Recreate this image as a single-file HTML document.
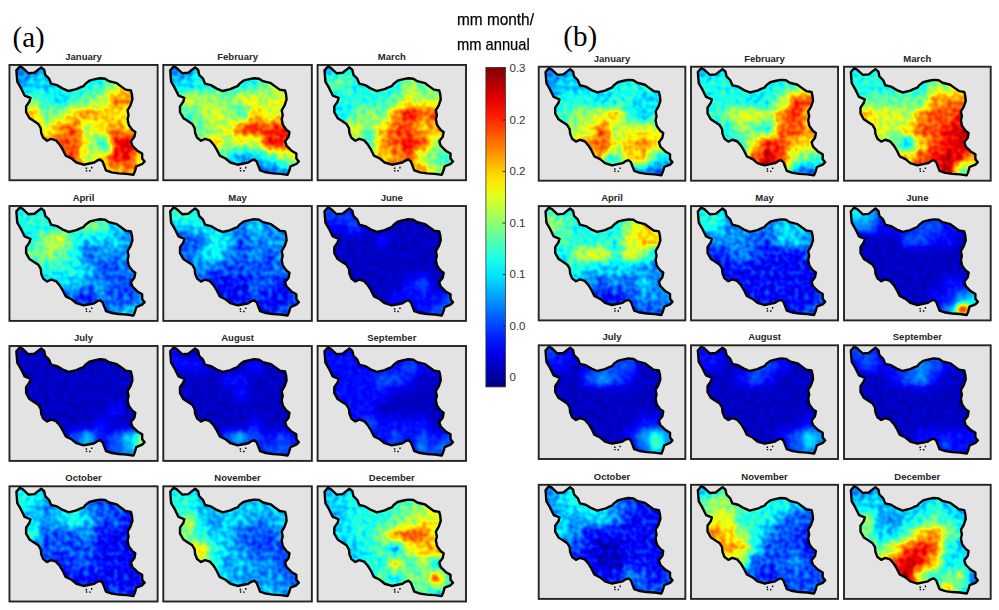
<!DOCTYPE html>
<html><head><meta charset="utf-8"><style>
html,body{margin:0;padding:0;background:#fff;width:999px;height:610px;overflow:hidden;}
body{position:relative;font-family:"Liberation Sans",sans-serif;}
svg.pg{position:absolute;left:0;top:0;display:block;}
.lbl{position:absolute;text-align:center;font-weight:bold;font-size:9.5px;line-height:11px;color:#262626;white-space:nowrap;}
.tk{position:absolute;font-size:11.5px;line-height:13px;color:#333;}
.pl{position:absolute;font-family:"Liberation Serif",serif;font-size:29px;line-height:33px;color:#000;}
.un{position:absolute;font-size:17px;line-height:20px;color:#000;-webkit-text-stroke:0.25px #000;white-space:nowrap;transform-origin:0 0;}
</style></head><body>
<svg class="pg" width="999" height="610" viewBox="0 0 999 610"><defs>
<path id="ir" fill="none" stroke="#000" stroke-width="2.4" stroke-linejoin="round" d="M10.35,1.50 L13.25,2.90 L19.15,8.30 L25.05,7.80 L31.95,2.40 L34.95,4.90 L35.95,9.80 L39.85,13.70 L41.85,18.70 L47.75,20.10 L53.65,23.60 L59.55,26.00 L67.35,24.10 L70.55,22.60 L74.45,21.10 L76.45,18.70 L80.35,15.70 L86.25,14.20 L91.15,13.30 L96.15,13.70 L100.05,16.20 L107.95,18.20 L111.85,21.10 L116.75,24.60 L122.15,25.50 L123.15,29.50 L123.65,34.40 L121.65,40.30 L118.75,45.20 L119.75,50.10 L118.75,54.10 L119.75,59.00 L120.65,60.90 L123.65,64.80 L126.55,66.80 L125.65,71.70 L122.15,76.10 L123.65,80.60 L128.55,85.50 L133.45,88.40 L133.45,93.30 L135.95,96.30 L133.45,98.80 L127.55,101.20 L126.15,106.10 L124.65,109.60 L117.75,108.60 L109.85,108.10 L102.95,107.10 L97.05,105.10 L95.15,100.20 L93.65,96.30 L91.15,94.30 L88.25,95.30 L85.25,97.30 L80.35,98.30 L74.55,99.50 L67.35,97.30 L62.45,93.30 L56.55,90.40 L53.65,84.50 L50.65,79.60 L46.75,75.20 L41.85,73.70 L37.85,75.60 L33.95,72.70 L31.95,67.80 L31.45,62.90 L29.05,58.90 L23.15,55.00 L20.15,53.10 L16.75,47.20 L16.75,41.30 L20.15,36.40 L21.15,32.90 L15.25,30.50 L11.35,22.60 L7.85,16.70 L6.95,5.40Z"/>
<path id="isl" fill="#000" d="M76.6,102.4h1.5v1.5h-1.5zM76.8,104.8h1.4v1.4h-1.4zM80.1,104.9h1.5v1.4h-1.5zM82,101.6h1.4v1.6h-1.4z"/>
<clipPath id="ck"><path d="M10.35,1.50 L13.25,2.90 L19.15,8.30 L25.05,7.80 L31.95,2.40 L34.95,4.90 L35.95,9.80 L39.85,13.70 L41.85,18.70 L47.75,20.10 L53.65,23.60 L59.55,26.00 L67.35,24.10 L70.55,22.60 L74.45,21.10 L76.45,18.70 L80.35,15.70 L86.25,14.20 L91.15,13.30 L96.15,13.70 L100.05,16.20 L107.95,18.20 L111.85,21.10 L116.75,24.60 L122.15,25.50 L123.15,29.50 L123.65,34.40 L121.65,40.30 L118.75,45.20 L119.75,50.10 L118.75,54.10 L119.75,59.00 L120.65,60.90 L123.65,64.80 L126.55,66.80 L125.65,71.70 L122.15,76.10 L123.65,80.60 L128.55,85.50 L133.45,88.40 L133.45,93.30 L135.95,96.30 L133.45,98.80 L127.55,101.20 L126.15,106.10 L124.65,109.60 L117.75,108.60 L109.85,108.10 L102.95,107.10 L97.05,105.10 L95.15,100.20 L93.65,96.30 L91.15,94.30 L88.25,95.30 L85.25,97.30 L80.35,98.30 L74.55,99.50 L67.35,97.30 L62.45,93.30 L56.55,90.40 L53.65,84.50 L50.65,79.60 L46.75,75.20 L41.85,73.70 L37.85,75.60 L33.95,72.70 L31.95,67.80 L31.45,62.90 L29.05,58.90 L23.15,55.00 L20.15,53.10 L16.75,47.20 L16.75,41.30 L20.15,36.40 L21.15,32.90 L15.25,30.50 L11.35,22.60 L7.85,16.70 L6.95,5.40Z"/></clipPath>
<filter id="bl" x="-10%" y="-10%" width="120%" height="120%" color-interpolation-filters="sRGB"><feGaussianBlur stdDeviation="4.0" result="s"/><feTurbulence type="fractalNoise" baseFrequency="0.2" numOctaves="1" seed="3"/><feColorMatrix type="matrix" values="1 0 0 0 0  1 0 0 0 0  1 0 0 0 0  0 0 0 0 1" result="n"/><feComposite in="s" in2="n" operator="arithmetic" k1="0" k2="1" k3="0.26" k4="-0.130"/><feComponentTransfer><feFuncR type="table" tableValues="0 0 0 0 .5 1 1 1 .5"/><feFuncG type="table" tableValues="0 0 .5 1 1 1 .5 0 0"/><feFuncB type="table" tableValues=".5 1 1 1 .5 0 0 0 0"/></feComponentTransfer></filter><filter id="bq" x="-10%" y="-10%" width="120%" height="120%" color-interpolation-filters="sRGB"><feGaussianBlur stdDeviation="4.0" result="s"/><feTurbulence type="fractalNoise" baseFrequency="0.2" numOctaves="1" seed="3"/><feColorMatrix type="matrix" values="1 0 0 0 0  1 0 0 0 0  1 0 0 0 0  0 0 0 0 1" result="n"/><feComposite in="s" in2="n" operator="arithmetic" k1="0" k2="1" k3="0.1" k4="-0.050"/><feComponentTransfer><feFuncR type="table" tableValues="0 0 0 0 .5 1 1 1 .5"/><feFuncG type="table" tableValues="0 0 .5 1 1 1 .5 0 0"/><feFuncB type="table" tableValues=".5 1 1 1 .5 0 0 0 0"/></feComponentTransfer></filter>
<linearGradient id="cg" x1="0" y1="0" x2="0" y2="1"><stop offset="0.00" stop-color="#800000"/><stop offset="0.05" stop-color="#b30000"/><stop offset="0.10" stop-color="#e50000"/><stop offset="0.15" stop-color="#ff1a00"/><stop offset="0.20" stop-color="#ff4c00"/><stop offset="0.25" stop-color="#ff8000"/><stop offset="0.30" stop-color="#ffb300"/><stop offset="0.35" stop-color="#ffe500"/><stop offset="0.40" stop-color="#e5ff1a"/><stop offset="0.45" stop-color="#b3ff4c"/><stop offset="0.50" stop-color="#80ff80"/><stop offset="0.55" stop-color="#4cffb3"/><stop offset="0.60" stop-color="#1affe5"/><stop offset="0.65" stop-color="#00e5ff"/><stop offset="0.70" stop-color="#00b3ff"/><stop offset="0.75" stop-color="#0080ff"/><stop offset="0.80" stop-color="#004cff"/><stop offset="0.85" stop-color="#001aff"/><stop offset="0.90" stop-color="#0000e5"/><stop offset="0.95" stop-color="#0000b3"/><stop offset="1.00" stop-color="#000080"/></linearGradient>
</defs>
<rect x="9.45" y="64.95" width="148.20" height="115.30" fill="#e3e3e3" stroke="#242424" stroke-width="1.9"/><g transform="translate(9.45,64.95) scale(0.9946,1.0026)"><g clip-path="url(#ck)"><g filter="url(#bl)"><rect x="4.0" y="-2.0" width="14.1" height="15.0" fill="#444444"/><rect x="17.6" y="-2.0" width="14.1" height="15.0" fill="#444444"/><rect x="31.2" y="-2.0" width="14.1" height="15.0" fill="#555555"/><rect x="44.8" y="-2.0" width="14.1" height="15.0" fill="#555555"/><rect x="58.4" y="-2.0" width="14.1" height="15.0" fill="#666666"/><rect x="72.0" y="-2.0" width="14.1" height="15.0" fill="#666666"/><rect x="85.6" y="-2.0" width="14.1" height="15.0" fill="#666666"/><rect x="99.2" y="-2.0" width="14.1" height="15.0" fill="#888888"/><rect x="112.8" y="-2.0" width="14.1" height="15.0" fill="#aaaaaa"/><rect x="126.4" y="-2.0" width="14.1" height="15.0" fill="#aaaaaa"/><rect x="4.0" y="12.5" width="14.1" height="15.0" fill="#444444"/><rect x="17.6" y="12.5" width="14.1" height="15.0" fill="#555555"/><rect x="31.2" y="12.5" width="14.1" height="15.0" fill="#555555"/><rect x="44.8" y="12.5" width="14.1" height="15.0" fill="#666666"/><rect x="58.4" y="12.5" width="14.1" height="15.0" fill="#666666"/><rect x="72.0" y="12.5" width="14.1" height="15.0" fill="#666666"/><rect x="85.6" y="12.5" width="14.1" height="15.0" fill="#666666"/><rect x="99.2" y="12.5" width="14.1" height="15.0" fill="#888888"/><rect x="112.8" y="12.5" width="14.1" height="15.0" fill="#aaaaaa"/><rect x="126.4" y="12.5" width="14.1" height="15.0" fill="#aaaaaa"/><rect x="4.0" y="27.0" width="14.1" height="15.0" fill="#888888"/><rect x="17.6" y="27.0" width="14.1" height="15.0" fill="#777777"/><rect x="31.2" y="27.0" width="14.1" height="15.0" fill="#666666"/><rect x="44.8" y="27.0" width="14.1" height="15.0" fill="#555555"/><rect x="58.4" y="27.0" width="14.1" height="15.0" fill="#666666"/><rect x="72.0" y="27.0" width="14.1" height="15.0" fill="#777777"/><rect x="85.6" y="27.0" width="14.1" height="15.0" fill="#888888"/><rect x="99.2" y="27.0" width="14.1" height="15.0" fill="#bbbbbb"/><rect x="112.8" y="27.0" width="14.1" height="15.0" fill="#bbbbbb"/><rect x="126.4" y="27.0" width="14.1" height="15.0" fill="#bbbbbb"/><rect x="4.0" y="41.5" width="14.1" height="15.0" fill="#999999"/><rect x="17.6" y="41.5" width="14.1" height="15.0" fill="#aaaaaa"/><rect x="31.2" y="41.5" width="14.1" height="15.0" fill="#777777"/><rect x="44.8" y="41.5" width="14.1" height="15.0" fill="#888888"/><rect x="58.4" y="41.5" width="14.1" height="15.0" fill="#aaaaaa"/><rect x="72.0" y="41.5" width="14.1" height="15.0" fill="#bbbbbb"/><rect x="85.6" y="41.5" width="14.1" height="15.0" fill="#aaaaaa"/><rect x="99.2" y="41.5" width="14.1" height="15.0" fill="#aaaaaa"/><rect x="112.8" y="41.5" width="14.1" height="15.0" fill="#999999"/><rect x="126.4" y="41.5" width="14.1" height="15.0" fill="#999999"/><rect x="4.0" y="56.0" width="14.1" height="15.0" fill="#aaaaaa"/><rect x="17.6" y="56.0" width="14.1" height="15.0" fill="#aaaaaa"/><rect x="31.2" y="56.0" width="14.1" height="15.0" fill="#999999"/><rect x="44.8" y="56.0" width="14.1" height="15.0" fill="#bbbbbb"/><rect x="58.4" y="56.0" width="14.1" height="15.0" fill="#cccccc"/><rect x="72.0" y="56.0" width="14.1" height="15.0" fill="#888888"/><rect x="85.6" y="56.0" width="14.1" height="15.0" fill="#aaaaaa"/><rect x="99.2" y="56.0" width="14.1" height="15.0" fill="#bbbbbb"/><rect x="112.8" y="56.0" width="14.1" height="15.0" fill="#aaaaaa"/><rect x="126.4" y="56.0" width="14.1" height="15.0" fill="#aaaaaa"/><rect x="4.0" y="70.5" width="14.1" height="15.0" fill="#bbbbbb"/><rect x="17.6" y="70.5" width="14.1" height="15.0" fill="#bbbbbb"/><rect x="31.2" y="70.5" width="14.1" height="15.0" fill="#bbbbbb"/><rect x="44.8" y="70.5" width="14.1" height="15.0" fill="#cccccc"/><rect x="58.4" y="70.5" width="14.1" height="15.0" fill="#cccccc"/><rect x="72.0" y="70.5" width="14.1" height="15.0" fill="#999999"/><rect x="85.6" y="70.5" width="14.1" height="15.0" fill="#666666"/><rect x="99.2" y="70.5" width="14.1" height="15.0" fill="#dddddd"/><rect x="112.8" y="70.5" width="14.1" height="15.0" fill="#eeeeee"/><rect x="126.4" y="70.5" width="14.1" height="15.0" fill="#cccccc"/><rect x="4.0" y="85.0" width="14.1" height="15.0" fill="#cccccc"/><rect x="17.6" y="85.0" width="14.1" height="15.0" fill="#cccccc"/><rect x="31.2" y="85.0" width="14.1" height="15.0" fill="#cccccc"/><rect x="44.8" y="85.0" width="14.1" height="15.0" fill="#cccccc"/><rect x="58.4" y="85.0" width="14.1" height="15.0" fill="#cccccc"/><rect x="72.0" y="85.0" width="14.1" height="15.0" fill="#888888"/><rect x="85.6" y="85.0" width="14.1" height="15.0" fill="#aaaaaa"/><rect x="99.2" y="85.0" width="14.1" height="15.0" fill="#dddddd"/><rect x="112.8" y="85.0" width="14.1" height="15.0" fill="#dddddd"/><rect x="126.4" y="85.0" width="14.1" height="15.0" fill="#999999"/><rect x="4.0" y="99.5" width="14.1" height="15.0" fill="#cccccc"/><rect x="17.6" y="99.5" width="14.1" height="15.0" fill="#cccccc"/><rect x="31.2" y="99.5" width="14.1" height="15.0" fill="#cccccc"/><rect x="44.8" y="99.5" width="14.1" height="15.0" fill="#cccccc"/><rect x="58.4" y="99.5" width="14.1" height="15.0" fill="#cccccc"/><rect x="72.0" y="99.5" width="14.1" height="15.0" fill="#aaaaaa"/><rect x="85.6" y="99.5" width="14.1" height="15.0" fill="#aaaaaa"/><rect x="99.2" y="99.5" width="14.1" height="15.0" fill="#aaaaaa"/><rect x="112.8" y="99.5" width="14.1" height="15.0" fill="#bbbbbb"/><rect x="126.4" y="99.5" width="14.1" height="15.0" fill="#aaaaaa"/><ellipse cx="97" cy="82" rx="7" ry="5" fill="#555555"/></g></g><use href="#ir"/><use href="#isl"/></g><rect x="538.70" y="66.70" width="146.65" height="114.00" fill="#e3e3e3" stroke="#242424" stroke-width="1.9"/><g transform="translate(538.70,66.70) scale(0.9842,0.9913)"><g clip-path="url(#ck)"><g filter="url(#bl)"><rect x="4.0" y="-2.0" width="14.1" height="15.0" fill="#444444"/><rect x="17.6" y="-2.0" width="14.1" height="15.0" fill="#444444"/><rect x="31.2" y="-2.0" width="14.1" height="15.0" fill="#555555"/><rect x="44.8" y="-2.0" width="14.1" height="15.0" fill="#555555"/><rect x="58.4" y="-2.0" width="14.1" height="15.0" fill="#555555"/><rect x="72.0" y="-2.0" width="14.1" height="15.0" fill="#666666"/><rect x="85.6" y="-2.0" width="14.1" height="15.0" fill="#666666"/><rect x="99.2" y="-2.0" width="14.1" height="15.0" fill="#666666"/><rect x="112.8" y="-2.0" width="14.1" height="15.0" fill="#666666"/><rect x="126.4" y="-2.0" width="14.1" height="15.0" fill="#666666"/><rect x="4.0" y="12.5" width="14.1" height="15.0" fill="#444444"/><rect x="17.6" y="12.5" width="14.1" height="15.0" fill="#555555"/><rect x="31.2" y="12.5" width="14.1" height="15.0" fill="#555555"/><rect x="44.8" y="12.5" width="14.1" height="15.0" fill="#555555"/><rect x="58.4" y="12.5" width="14.1" height="15.0" fill="#555555"/><rect x="72.0" y="12.5" width="14.1" height="15.0" fill="#666666"/><rect x="85.6" y="12.5" width="14.1" height="15.0" fill="#666666"/><rect x="99.2" y="12.5" width="14.1" height="15.0" fill="#666666"/><rect x="112.8" y="12.5" width="14.1" height="15.0" fill="#666666"/><rect x="126.4" y="12.5" width="14.1" height="15.0" fill="#666666"/><rect x="4.0" y="27.0" width="14.1" height="15.0" fill="#555555"/><rect x="17.6" y="27.0" width="14.1" height="15.0" fill="#666666"/><rect x="31.2" y="27.0" width="14.1" height="15.0" fill="#666666"/><rect x="44.8" y="27.0" width="14.1" height="15.0" fill="#666666"/><rect x="58.4" y="27.0" width="14.1" height="15.0" fill="#555555"/><rect x="72.0" y="27.0" width="14.1" height="15.0" fill="#666666"/><rect x="85.6" y="27.0" width="14.1" height="15.0" fill="#666666"/><rect x="99.2" y="27.0" width="14.1" height="15.0" fill="#555555"/><rect x="112.8" y="27.0" width="14.1" height="15.0" fill="#555555"/><rect x="126.4" y="27.0" width="14.1" height="15.0" fill="#555555"/><rect x="4.0" y="41.5" width="14.1" height="15.0" fill="#666666"/><rect x="17.6" y="41.5" width="14.1" height="15.0" fill="#666666"/><rect x="31.2" y="41.5" width="14.1" height="15.0" fill="#888888"/><rect x="44.8" y="41.5" width="14.1" height="15.0" fill="#888888"/><rect x="58.4" y="41.5" width="14.1" height="15.0" fill="#999999"/><rect x="72.0" y="41.5" width="14.1" height="15.0" fill="#aaaaaa"/><rect x="85.6" y="41.5" width="14.1" height="15.0" fill="#666666"/><rect x="99.2" y="41.5" width="14.1" height="15.0" fill="#555555"/><rect x="112.8" y="41.5" width="14.1" height="15.0" fill="#666666"/><rect x="126.4" y="41.5" width="14.1" height="15.0" fill="#666666"/><rect x="4.0" y="56.0" width="14.1" height="15.0" fill="#888888"/><rect x="17.6" y="56.0" width="14.1" height="15.0" fill="#888888"/><rect x="31.2" y="56.0" width="14.1" height="15.0" fill="#888888"/><rect x="44.8" y="56.0" width="14.1" height="15.0" fill="#999999"/><rect x="58.4" y="56.0" width="14.1" height="15.0" fill="#cccccc"/><rect x="72.0" y="56.0" width="14.1" height="15.0" fill="#888888"/><rect x="85.6" y="56.0" width="14.1" height="15.0" fill="#999999"/><rect x="99.2" y="56.0" width="14.1" height="15.0" fill="#999999"/><rect x="112.8" y="56.0" width="14.1" height="15.0" fill="#999999"/><rect x="126.4" y="56.0" width="14.1" height="15.0" fill="#999999"/><rect x="4.0" y="70.5" width="14.1" height="15.0" fill="#aaaaaa"/><rect x="17.6" y="70.5" width="14.1" height="15.0" fill="#aaaaaa"/><rect x="31.2" y="70.5" width="14.1" height="15.0" fill="#aaaaaa"/><rect x="44.8" y="70.5" width="14.1" height="15.0" fill="#bbbbbb"/><rect x="58.4" y="70.5" width="14.1" height="15.0" fill="#cccccc"/><rect x="72.0" y="70.5" width="14.1" height="15.0" fill="#999999"/><rect x="85.6" y="70.5" width="14.1" height="15.0" fill="#aaaaaa"/><rect x="99.2" y="70.5" width="14.1" height="15.0" fill="#bbbbbb"/><rect x="112.8" y="70.5" width="14.1" height="15.0" fill="#aaaaaa"/><rect x="126.4" y="70.5" width="14.1" height="15.0" fill="#aaaaaa"/><rect x="4.0" y="85.0" width="14.1" height="15.0" fill="#aaaaaa"/><rect x="17.6" y="85.0" width="14.1" height="15.0" fill="#aaaaaa"/><rect x="31.2" y="85.0" width="14.1" height="15.0" fill="#aaaaaa"/><rect x="44.8" y="85.0" width="14.1" height="15.0" fill="#aaaaaa"/><rect x="58.4" y="85.0" width="14.1" height="15.0" fill="#bbbbbb"/><rect x="72.0" y="85.0" width="14.1" height="15.0" fill="#777777"/><rect x="85.6" y="85.0" width="14.1" height="15.0" fill="#aaaaaa"/><rect x="99.2" y="85.0" width="14.1" height="15.0" fill="#aaaaaa"/><rect x="112.8" y="85.0" width="14.1" height="15.0" fill="#666666"/><rect x="126.4" y="85.0" width="14.1" height="15.0" fill="#555555"/><rect x="4.0" y="99.5" width="14.1" height="15.0" fill="#555555"/><rect x="17.6" y="99.5" width="14.1" height="15.0" fill="#555555"/><rect x="31.2" y="99.5" width="14.1" height="15.0" fill="#555555"/><rect x="44.8" y="99.5" width="14.1" height="15.0" fill="#555555"/><rect x="58.4" y="99.5" width="14.1" height="15.0" fill="#555555"/><rect x="72.0" y="99.5" width="14.1" height="15.0" fill="#555555"/><rect x="85.6" y="99.5" width="14.1" height="15.0" fill="#555555"/><rect x="99.2" y="99.5" width="14.1" height="15.0" fill="#444444"/><rect x="112.8" y="99.5" width="14.1" height="15.0" fill="#333333"/><rect x="126.4" y="99.5" width="14.1" height="15.0" fill="#333333"/><ellipse cx="72" cy="93" rx="8" ry="4" fill="#555555"/></g></g><use href="#ir"/><use href="#isl"/></g><rect x="163.30" y="64.95" width="148.55" height="115.30" fill="#e3e3e3" stroke="#242424" stroke-width="1.9"/><g transform="translate(163.30,64.95) scale(0.9970,1.0026)"><g clip-path="url(#ck)"><g filter="url(#bl)"><rect x="4.0" y="-2.0" width="14.1" height="15.0" fill="#444444"/><rect x="17.6" y="-2.0" width="14.1" height="15.0" fill="#444444"/><rect x="31.2" y="-2.0" width="14.1" height="15.0" fill="#666666"/><rect x="44.8" y="-2.0" width="14.1" height="15.0" fill="#666666"/><rect x="58.4" y="-2.0" width="14.1" height="15.0" fill="#666666"/><rect x="72.0" y="-2.0" width="14.1" height="15.0" fill="#666666"/><rect x="85.6" y="-2.0" width="14.1" height="15.0" fill="#666666"/><rect x="99.2" y="-2.0" width="14.1" height="15.0" fill="#888888"/><rect x="112.8" y="-2.0" width="14.1" height="15.0" fill="#888888"/><rect x="126.4" y="-2.0" width="14.1" height="15.0" fill="#888888"/><rect x="4.0" y="12.5" width="14.1" height="15.0" fill="#555555"/><rect x="17.6" y="12.5" width="14.1" height="15.0" fill="#555555"/><rect x="31.2" y="12.5" width="14.1" height="15.0" fill="#666666"/><rect x="44.8" y="12.5" width="14.1" height="15.0" fill="#666666"/><rect x="58.4" y="12.5" width="14.1" height="15.0" fill="#666666"/><rect x="72.0" y="12.5" width="14.1" height="15.0" fill="#666666"/><rect x="85.6" y="12.5" width="14.1" height="15.0" fill="#666666"/><rect x="99.2" y="12.5" width="14.1" height="15.0" fill="#888888"/><rect x="112.8" y="12.5" width="14.1" height="15.0" fill="#888888"/><rect x="126.4" y="12.5" width="14.1" height="15.0" fill="#888888"/><rect x="4.0" y="27.0" width="14.1" height="15.0" fill="#888888"/><rect x="17.6" y="27.0" width="14.1" height="15.0" fill="#999999"/><rect x="31.2" y="27.0" width="14.1" height="15.0" fill="#888888"/><rect x="44.8" y="27.0" width="14.1" height="15.0" fill="#888888"/><rect x="58.4" y="27.0" width="14.1" height="15.0" fill="#777777"/><rect x="72.0" y="27.0" width="14.1" height="15.0" fill="#999999"/><rect x="85.6" y="27.0" width="14.1" height="15.0" fill="#999999"/><rect x="99.2" y="27.0" width="14.1" height="15.0" fill="#888888"/><rect x="112.8" y="27.0" width="14.1" height="15.0" fill="#999999"/><rect x="126.4" y="27.0" width="14.1" height="15.0" fill="#999999"/><rect x="4.0" y="41.5" width="14.1" height="15.0" fill="#777777"/><rect x="17.6" y="41.5" width="14.1" height="15.0" fill="#666666"/><rect x="31.2" y="41.5" width="14.1" height="15.0" fill="#888888"/><rect x="44.8" y="41.5" width="14.1" height="15.0" fill="#999999"/><rect x="58.4" y="41.5" width="14.1" height="15.0" fill="#888888"/><rect x="72.0" y="41.5" width="14.1" height="15.0" fill="#666666"/><rect x="85.6" y="41.5" width="14.1" height="15.0" fill="#aaaaaa"/><rect x="99.2" y="41.5" width="14.1" height="15.0" fill="#999999"/><rect x="112.8" y="41.5" width="14.1" height="15.0" fill="#999999"/><rect x="126.4" y="41.5" width="14.1" height="15.0" fill="#999999"/><rect x="4.0" y="56.0" width="14.1" height="15.0" fill="#777777"/><rect x="17.6" y="56.0" width="14.1" height="15.0" fill="#777777"/><rect x="31.2" y="56.0" width="14.1" height="15.0" fill="#777777"/><rect x="44.8" y="56.0" width="14.1" height="15.0" fill="#888888"/><rect x="58.4" y="56.0" width="14.1" height="15.0" fill="#999999"/><rect x="72.0" y="56.0" width="14.1" height="15.0" fill="#cccccc"/><rect x="85.6" y="56.0" width="14.1" height="15.0" fill="#dddddd"/><rect x="99.2" y="56.0" width="14.1" height="15.0" fill="#cccccc"/><rect x="112.8" y="56.0" width="14.1" height="15.0" fill="#dddddd"/><rect x="126.4" y="56.0" width="14.1" height="15.0" fill="#dddddd"/><rect x="4.0" y="70.5" width="14.1" height="15.0" fill="#888888"/><rect x="17.6" y="70.5" width="14.1" height="15.0" fill="#888888"/><rect x="31.2" y="70.5" width="14.1" height="15.0" fill="#888888"/><rect x="44.8" y="70.5" width="14.1" height="15.0" fill="#aaaaaa"/><rect x="58.4" y="70.5" width="14.1" height="15.0" fill="#888888"/><rect x="72.0" y="70.5" width="14.1" height="15.0" fill="#999999"/><rect x="85.6" y="70.5" width="14.1" height="15.0" fill="#888888"/><rect x="99.2" y="70.5" width="14.1" height="15.0" fill="#dddddd"/><rect x="112.8" y="70.5" width="14.1" height="15.0" fill="#dddddd"/><rect x="126.4" y="70.5" width="14.1" height="15.0" fill="#bbbbbb"/><rect x="4.0" y="85.0" width="14.1" height="15.0" fill="#777777"/><rect x="17.6" y="85.0" width="14.1" height="15.0" fill="#777777"/><rect x="31.2" y="85.0" width="14.1" height="15.0" fill="#777777"/><rect x="44.8" y="85.0" width="14.1" height="15.0" fill="#777777"/><rect x="58.4" y="85.0" width="14.1" height="15.0" fill="#666666"/><rect x="72.0" y="85.0" width="14.1" height="15.0" fill="#444444"/><rect x="85.6" y="85.0" width="14.1" height="15.0" fill="#555555"/><rect x="99.2" y="85.0" width="14.1" height="15.0" fill="#666666"/><rect x="112.8" y="85.0" width="14.1" height="15.0" fill="#888888"/><rect x="126.4" y="85.0" width="14.1" height="15.0" fill="#999999"/><rect x="4.0" y="99.5" width="14.1" height="15.0" fill="#666666"/><rect x="17.6" y="99.5" width="14.1" height="15.0" fill="#666666"/><rect x="31.2" y="99.5" width="14.1" height="15.0" fill="#666666"/><rect x="44.8" y="99.5" width="14.1" height="15.0" fill="#666666"/><rect x="58.4" y="99.5" width="14.1" height="15.0" fill="#555555"/><rect x="72.0" y="99.5" width="14.1" height="15.0" fill="#444444"/><rect x="85.6" y="99.5" width="14.1" height="15.0" fill="#333333"/><rect x="99.2" y="99.5" width="14.1" height="15.0" fill="#333333"/><rect x="112.8" y="99.5" width="14.1" height="15.0" fill="#444444"/><rect x="126.4" y="99.5" width="14.1" height="15.0" fill="#555555"/></g></g><use href="#ir"/><use href="#isl"/></g><rect x="691.00" y="66.70" width="147.05" height="114.00" fill="#e3e3e3" stroke="#242424" stroke-width="1.9"/><g transform="translate(691.00,66.70) scale(0.9869,0.9913)"><g clip-path="url(#ck)"><g filter="url(#bl)"><rect x="4.0" y="-2.0" width="14.1" height="15.0" fill="#555555"/><rect x="17.6" y="-2.0" width="14.1" height="15.0" fill="#555555"/><rect x="31.2" y="-2.0" width="14.1" height="15.0" fill="#666666"/><rect x="44.8" y="-2.0" width="14.1" height="15.0" fill="#666666"/><rect x="58.4" y="-2.0" width="14.1" height="15.0" fill="#666666"/><rect x="72.0" y="-2.0" width="14.1" height="15.0" fill="#666666"/><rect x="85.6" y="-2.0" width="14.1" height="15.0" fill="#666666"/><rect x="99.2" y="-2.0" width="14.1" height="15.0" fill="#777777"/><rect x="112.8" y="-2.0" width="14.1" height="15.0" fill="#888888"/><rect x="126.4" y="-2.0" width="14.1" height="15.0" fill="#888888"/><rect x="4.0" y="12.5" width="14.1" height="15.0" fill="#666666"/><rect x="17.6" y="12.5" width="14.1" height="15.0" fill="#666666"/><rect x="31.2" y="12.5" width="14.1" height="15.0" fill="#666666"/><rect x="44.8" y="12.5" width="14.1" height="15.0" fill="#666666"/><rect x="58.4" y="12.5" width="14.1" height="15.0" fill="#666666"/><rect x="72.0" y="12.5" width="14.1" height="15.0" fill="#666666"/><rect x="85.6" y="12.5" width="14.1" height="15.0" fill="#666666"/><rect x="99.2" y="12.5" width="14.1" height="15.0" fill="#777777"/><rect x="112.8" y="12.5" width="14.1" height="15.0" fill="#888888"/><rect x="126.4" y="12.5" width="14.1" height="15.0" fill="#bbbbbb"/><rect x="4.0" y="27.0" width="14.1" height="15.0" fill="#666666"/><rect x="17.6" y="27.0" width="14.1" height="15.0" fill="#666666"/><rect x="31.2" y="27.0" width="14.1" height="15.0" fill="#666666"/><rect x="44.8" y="27.0" width="14.1" height="15.0" fill="#666666"/><rect x="58.4" y="27.0" width="14.1" height="15.0" fill="#555555"/><rect x="72.0" y="27.0" width="14.1" height="15.0" fill="#666666"/><rect x="85.6" y="27.0" width="14.1" height="15.0" fill="#888888"/><rect x="99.2" y="27.0" width="14.1" height="15.0" fill="#cccccc"/><rect x="112.8" y="27.0" width="14.1" height="15.0" fill="#cccccc"/><rect x="126.4" y="27.0" width="14.1" height="15.0" fill="#cccccc"/><rect x="4.0" y="41.5" width="14.1" height="15.0" fill="#666666"/><rect x="17.6" y="41.5" width="14.1" height="15.0" fill="#666666"/><rect x="31.2" y="41.5" width="14.1" height="15.0" fill="#888888"/><rect x="44.8" y="41.5" width="14.1" height="15.0" fill="#999999"/><rect x="58.4" y="41.5" width="14.1" height="15.0" fill="#999999"/><rect x="72.0" y="41.5" width="14.1" height="15.0" fill="#888888"/><rect x="85.6" y="41.5" width="14.1" height="15.0" fill="#bbbbbb"/><rect x="99.2" y="41.5" width="14.1" height="15.0" fill="#dddddd"/><rect x="112.8" y="41.5" width="14.1" height="15.0" fill="#aaaaaa"/><rect x="126.4" y="41.5" width="14.1" height="15.0" fill="#aaaaaa"/><rect x="4.0" y="56.0" width="14.1" height="15.0" fill="#666666"/><rect x="17.6" y="56.0" width="14.1" height="15.0" fill="#666666"/><rect x="31.2" y="56.0" width="14.1" height="15.0" fill="#666666"/><rect x="44.8" y="56.0" width="14.1" height="15.0" fill="#888888"/><rect x="58.4" y="56.0" width="14.1" height="15.0" fill="#777777"/><rect x="72.0" y="56.0" width="14.1" height="15.0" fill="#666666"/><rect x="85.6" y="56.0" width="14.1" height="15.0" fill="#cccccc"/><rect x="99.2" y="56.0" width="14.1" height="15.0" fill="#cccccc"/><rect x="112.8" y="56.0" width="14.1" height="15.0" fill="#bbbbbb"/><rect x="126.4" y="56.0" width="14.1" height="15.0" fill="#bbbbbb"/><rect x="4.0" y="70.5" width="14.1" height="15.0" fill="#666666"/><rect x="17.6" y="70.5" width="14.1" height="15.0" fill="#666666"/><rect x="31.2" y="70.5" width="14.1" height="15.0" fill="#666666"/><rect x="44.8" y="70.5" width="14.1" height="15.0" fill="#666666"/><rect x="58.4" y="70.5" width="14.1" height="15.0" fill="#aaaaaa"/><rect x="72.0" y="70.5" width="14.1" height="15.0" fill="#dddddd"/><rect x="85.6" y="70.5" width="14.1" height="15.0" fill="#cccccc"/><rect x="99.2" y="70.5" width="14.1" height="15.0" fill="#aaaaaa"/><rect x="112.8" y="70.5" width="14.1" height="15.0" fill="#aaaaaa"/><rect x="126.4" y="70.5" width="14.1" height="15.0" fill="#aaaaaa"/><rect x="4.0" y="85.0" width="14.1" height="15.0" fill="#777777"/><rect x="17.6" y="85.0" width="14.1" height="15.0" fill="#777777"/><rect x="31.2" y="85.0" width="14.1" height="15.0" fill="#777777"/><rect x="44.8" y="85.0" width="14.1" height="15.0" fill="#777777"/><rect x="58.4" y="85.0" width="14.1" height="15.0" fill="#cccccc"/><rect x="72.0" y="85.0" width="14.1" height="15.0" fill="#eeeeee"/><rect x="85.6" y="85.0" width="14.1" height="15.0" fill="#cccccc"/><rect x="99.2" y="85.0" width="14.1" height="15.0" fill="#888888"/><rect x="112.8" y="85.0" width="14.1" height="15.0" fill="#777777"/><rect x="126.4" y="85.0" width="14.1" height="15.0" fill="#666666"/><rect x="4.0" y="99.5" width="14.1" height="15.0" fill="#888888"/><rect x="17.6" y="99.5" width="14.1" height="15.0" fill="#888888"/><rect x="31.2" y="99.5" width="14.1" height="15.0" fill="#888888"/><rect x="44.8" y="99.5" width="14.1" height="15.0" fill="#888888"/><rect x="58.4" y="99.5" width="14.1" height="15.0" fill="#cccccc"/><rect x="72.0" y="99.5" width="14.1" height="15.0" fill="#eeeeee"/><rect x="85.6" y="99.5" width="14.1" height="15.0" fill="#cccccc"/><rect x="99.2" y="99.5" width="14.1" height="15.0" fill="#444444"/><rect x="112.8" y="99.5" width="14.1" height="15.0" fill="#333333"/><rect x="126.4" y="99.5" width="14.1" height="15.0" fill="#555555"/></g></g><use href="#ir"/><use href="#isl"/></g><rect x="317.60" y="64.95" width="148.40" height="115.30" fill="#e3e3e3" stroke="#242424" stroke-width="1.9"/><g transform="translate(317.60,64.95) scale(0.9960,1.0026)"><g clip-path="url(#ck)"><g filter="url(#bl)"><rect x="4.0" y="-2.0" width="14.1" height="15.0" fill="#555555"/><rect x="17.6" y="-2.0" width="14.1" height="15.0" fill="#666666"/><rect x="31.2" y="-2.0" width="14.1" height="15.0" fill="#666666"/><rect x="44.8" y="-2.0" width="14.1" height="15.0" fill="#666666"/><rect x="58.4" y="-2.0" width="14.1" height="15.0" fill="#666666"/><rect x="72.0" y="-2.0" width="14.1" height="15.0" fill="#777777"/><rect x="85.6" y="-2.0" width="14.1" height="15.0" fill="#888888"/><rect x="99.2" y="-2.0" width="14.1" height="15.0" fill="#777777"/><rect x="112.8" y="-2.0" width="14.1" height="15.0" fill="#777777"/><rect x="126.4" y="-2.0" width="14.1" height="15.0" fill="#777777"/><rect x="4.0" y="12.5" width="14.1" height="15.0" fill="#777777"/><rect x="17.6" y="12.5" width="14.1" height="15.0" fill="#777777"/><rect x="31.2" y="12.5" width="14.1" height="15.0" fill="#666666"/><rect x="44.8" y="12.5" width="14.1" height="15.0" fill="#666666"/><rect x="58.4" y="12.5" width="14.1" height="15.0" fill="#666666"/><rect x="72.0" y="12.5" width="14.1" height="15.0" fill="#666666"/><rect x="85.6" y="12.5" width="14.1" height="15.0" fill="#888888"/><rect x="99.2" y="12.5" width="14.1" height="15.0" fill="#777777"/><rect x="112.8" y="12.5" width="14.1" height="15.0" fill="#777777"/><rect x="126.4" y="12.5" width="14.1" height="15.0" fill="#777777"/><rect x="4.0" y="27.0" width="14.1" height="15.0" fill="#666666"/><rect x="17.6" y="27.0" width="14.1" height="15.0" fill="#666666"/><rect x="31.2" y="27.0" width="14.1" height="15.0" fill="#666666"/><rect x="44.8" y="27.0" width="14.1" height="15.0" fill="#666666"/><rect x="58.4" y="27.0" width="14.1" height="15.0" fill="#666666"/><rect x="72.0" y="27.0" width="14.1" height="15.0" fill="#777777"/><rect x="85.6" y="27.0" width="14.1" height="15.0" fill="#999999"/><rect x="99.2" y="27.0" width="14.1" height="15.0" fill="#888888"/><rect x="112.8" y="27.0" width="14.1" height="15.0" fill="#888888"/><rect x="126.4" y="27.0" width="14.1" height="15.0" fill="#888888"/><rect x="4.0" y="41.5" width="14.1" height="15.0" fill="#555555"/><rect x="17.6" y="41.5" width="14.1" height="15.0" fill="#555555"/><rect x="31.2" y="41.5" width="14.1" height="15.0" fill="#777777"/><rect x="44.8" y="41.5" width="14.1" height="15.0" fill="#888888"/><rect x="58.4" y="41.5" width="14.1" height="15.0" fill="#777777"/><rect x="72.0" y="41.5" width="14.1" height="15.0" fill="#bbbbbb"/><rect x="85.6" y="41.5" width="14.1" height="15.0" fill="#dddddd"/><rect x="99.2" y="41.5" width="14.1" height="15.0" fill="#cccccc"/><rect x="112.8" y="41.5" width="14.1" height="15.0" fill="#cccccc"/><rect x="126.4" y="41.5" width="14.1" height="15.0" fill="#cccccc"/><rect x="4.0" y="56.0" width="14.1" height="15.0" fill="#888888"/><rect x="17.6" y="56.0" width="14.1" height="15.0" fill="#888888"/><rect x="31.2" y="56.0" width="14.1" height="15.0" fill="#999999"/><rect x="44.8" y="56.0" width="14.1" height="15.0" fill="#777777"/><rect x="58.4" y="56.0" width="14.1" height="15.0" fill="#aaaaaa"/><rect x="72.0" y="56.0" width="14.1" height="15.0" fill="#cccccc"/><rect x="85.6" y="56.0" width="14.1" height="15.0" fill="#cccccc"/><rect x="99.2" y="56.0" width="14.1" height="15.0" fill="#aaaaaa"/><rect x="112.8" y="56.0" width="14.1" height="15.0" fill="#bbbbbb"/><rect x="126.4" y="56.0" width="14.1" height="15.0" fill="#bbbbbb"/><rect x="4.0" y="70.5" width="14.1" height="15.0" fill="#888888"/><rect x="17.6" y="70.5" width="14.1" height="15.0" fill="#888888"/><rect x="31.2" y="70.5" width="14.1" height="15.0" fill="#888888"/><rect x="44.8" y="70.5" width="14.1" height="15.0" fill="#666666"/><rect x="58.4" y="70.5" width="14.1" height="15.0" fill="#bbbbbb"/><rect x="72.0" y="70.5" width="14.1" height="15.0" fill="#cccccc"/><rect x="85.6" y="70.5" width="14.1" height="15.0" fill="#dddddd"/><rect x="99.2" y="70.5" width="14.1" height="15.0" fill="#cccccc"/><rect x="112.8" y="70.5" width="14.1" height="15.0" fill="#888888"/><rect x="126.4" y="70.5" width="14.1" height="15.0" fill="#888888"/><rect x="4.0" y="85.0" width="14.1" height="15.0" fill="#999999"/><rect x="17.6" y="85.0" width="14.1" height="15.0" fill="#999999"/><rect x="31.2" y="85.0" width="14.1" height="15.0" fill="#999999"/><rect x="44.8" y="85.0" width="14.1" height="15.0" fill="#999999"/><rect x="58.4" y="85.0" width="14.1" height="15.0" fill="#aaaaaa"/><rect x="72.0" y="85.0" width="14.1" height="15.0" fill="#bbbbbb"/><rect x="85.6" y="85.0" width="14.1" height="15.0" fill="#cccccc"/><rect x="99.2" y="85.0" width="14.1" height="15.0" fill="#888888"/><rect x="112.8" y="85.0" width="14.1" height="15.0" fill="#777777"/><rect x="126.4" y="85.0" width="14.1" height="15.0" fill="#666666"/><rect x="4.0" y="99.5" width="14.1" height="15.0" fill="#bbbbbb"/><rect x="17.6" y="99.5" width="14.1" height="15.0" fill="#bbbbbb"/><rect x="31.2" y="99.5" width="14.1" height="15.0" fill="#bbbbbb"/><rect x="44.8" y="99.5" width="14.1" height="15.0" fill="#bbbbbb"/><rect x="58.4" y="99.5" width="14.1" height="15.0" fill="#bbbbbb"/><rect x="72.0" y="99.5" width="14.1" height="15.0" fill="#bbbbbb"/><rect x="85.6" y="99.5" width="14.1" height="15.0" fill="#bbbbbb"/><rect x="99.2" y="99.5" width="14.1" height="15.0" fill="#bbbbbb"/><rect x="112.8" y="99.5" width="14.1" height="15.0" fill="#888888"/><rect x="126.4" y="99.5" width="14.1" height="15.0" fill="#777777"/></g></g><use href="#ir"/><use href="#isl"/></g><rect x="844.00" y="66.70" width="146.70" height="114.00" fill="#e3e3e3" stroke="#242424" stroke-width="1.9"/><g transform="translate(844.00,66.70) scale(0.9846,0.9913)"><g clip-path="url(#ck)"><g filter="url(#bl)"><rect x="4.0" y="-2.0" width="14.1" height="15.0" fill="#666666"/><rect x="17.6" y="-2.0" width="14.1" height="15.0" fill="#666666"/><rect x="31.2" y="-2.0" width="14.1" height="15.0" fill="#666666"/><rect x="44.8" y="-2.0" width="14.1" height="15.0" fill="#666666"/><rect x="58.4" y="-2.0" width="14.1" height="15.0" fill="#666666"/><rect x="72.0" y="-2.0" width="14.1" height="15.0" fill="#666666"/><rect x="85.6" y="-2.0" width="14.1" height="15.0" fill="#888888"/><rect x="99.2" y="-2.0" width="14.1" height="15.0" fill="#888888"/><rect x="112.8" y="-2.0" width="14.1" height="15.0" fill="#999999"/><rect x="126.4" y="-2.0" width="14.1" height="15.0" fill="#999999"/><rect x="4.0" y="12.5" width="14.1" height="15.0" fill="#666666"/><rect x="17.6" y="12.5" width="14.1" height="15.0" fill="#666666"/><rect x="31.2" y="12.5" width="14.1" height="15.0" fill="#666666"/><rect x="44.8" y="12.5" width="14.1" height="15.0" fill="#666666"/><rect x="58.4" y="12.5" width="14.1" height="15.0" fill="#666666"/><rect x="72.0" y="12.5" width="14.1" height="15.0" fill="#666666"/><rect x="85.6" y="12.5" width="14.1" height="15.0" fill="#888888"/><rect x="99.2" y="12.5" width="14.1" height="15.0" fill="#888888"/><rect x="112.8" y="12.5" width="14.1" height="15.0" fill="#999999"/><rect x="126.4" y="12.5" width="14.1" height="15.0" fill="#999999"/><rect x="4.0" y="27.0" width="14.1" height="15.0" fill="#777777"/><rect x="17.6" y="27.0" width="14.1" height="15.0" fill="#777777"/><rect x="31.2" y="27.0" width="14.1" height="15.0" fill="#777777"/><rect x="44.8" y="27.0" width="14.1" height="15.0" fill="#777777"/><rect x="58.4" y="27.0" width="14.1" height="15.0" fill="#777777"/><rect x="72.0" y="27.0" width="14.1" height="15.0" fill="#777777"/><rect x="85.6" y="27.0" width="14.1" height="15.0" fill="#bbbbbb"/><rect x="99.2" y="27.0" width="14.1" height="15.0" fill="#bbbbbb"/><rect x="112.8" y="27.0" width="14.1" height="15.0" fill="#bbbbbb"/><rect x="126.4" y="27.0" width="14.1" height="15.0" fill="#bbbbbb"/><rect x="4.0" y="41.5" width="14.1" height="15.0" fill="#aaaaaa"/><rect x="17.6" y="41.5" width="14.1" height="15.0" fill="#aaaaaa"/><rect x="31.2" y="41.5" width="14.1" height="15.0" fill="#999999"/><rect x="44.8" y="41.5" width="14.1" height="15.0" fill="#999999"/><rect x="58.4" y="41.5" width="14.1" height="15.0" fill="#888888"/><rect x="72.0" y="41.5" width="14.1" height="15.0" fill="#bbbbbb"/><rect x="85.6" y="41.5" width="14.1" height="15.0" fill="#cccccc"/><rect x="99.2" y="41.5" width="14.1" height="15.0" fill="#cccccc"/><rect x="112.8" y="41.5" width="14.1" height="15.0" fill="#dddddd"/><rect x="126.4" y="41.5" width="14.1" height="15.0" fill="#dddddd"/><rect x="4.0" y="56.0" width="14.1" height="15.0" fill="#999999"/><rect x="17.6" y="56.0" width="14.1" height="15.0" fill="#999999"/><rect x="31.2" y="56.0" width="14.1" height="15.0" fill="#999999"/><rect x="44.8" y="56.0" width="14.1" height="15.0" fill="#888888"/><rect x="58.4" y="56.0" width="14.1" height="15.0" fill="#aaaaaa"/><rect x="72.0" y="56.0" width="14.1" height="15.0" fill="#cccccc"/><rect x="85.6" y="56.0" width="14.1" height="15.0" fill="#cccccc"/><rect x="99.2" y="56.0" width="14.1" height="15.0" fill="#dddddd"/><rect x="112.8" y="56.0" width="14.1" height="15.0" fill="#eeeeee"/><rect x="126.4" y="56.0" width="14.1" height="15.0" fill="#eeeeee"/><rect x="4.0" y="70.5" width="14.1" height="15.0" fill="#888888"/><rect x="17.6" y="70.5" width="14.1" height="15.0" fill="#888888"/><rect x="31.2" y="70.5" width="14.1" height="15.0" fill="#888888"/><rect x="44.8" y="70.5" width="14.1" height="15.0" fill="#777777"/><rect x="58.4" y="70.5" width="14.1" height="15.0" fill="#555555"/><rect x="72.0" y="70.5" width="14.1" height="15.0" fill="#aaaaaa"/><rect x="85.6" y="70.5" width="14.1" height="15.0" fill="#cccccc"/><rect x="99.2" y="70.5" width="14.1" height="15.0" fill="#dddddd"/><rect x="112.8" y="70.5" width="14.1" height="15.0" fill="#eeeeee"/><rect x="126.4" y="70.5" width="14.1" height="15.0" fill="#dddddd"/><rect x="4.0" y="85.0" width="14.1" height="15.0" fill="#aaaaaa"/><rect x="17.6" y="85.0" width="14.1" height="15.0" fill="#aaaaaa"/><rect x="31.2" y="85.0" width="14.1" height="15.0" fill="#aaaaaa"/><rect x="44.8" y="85.0" width="14.1" height="15.0" fill="#aaaaaa"/><rect x="58.4" y="85.0" width="14.1" height="15.0" fill="#aaaaaa"/><rect x="72.0" y="85.0" width="14.1" height="15.0" fill="#cccccc"/><rect x="85.6" y="85.0" width="14.1" height="15.0" fill="#dddddd"/><rect x="99.2" y="85.0" width="14.1" height="15.0" fill="#eeeeee"/><rect x="112.8" y="85.0" width="14.1" height="15.0" fill="#dddddd"/><rect x="126.4" y="85.0" width="14.1" height="15.0" fill="#aaaaaa"/><rect x="4.0" y="99.5" width="14.1" height="15.0" fill="#cccccc"/><rect x="17.6" y="99.5" width="14.1" height="15.0" fill="#cccccc"/><rect x="31.2" y="99.5" width="14.1" height="15.0" fill="#cccccc"/><rect x="44.8" y="99.5" width="14.1" height="15.0" fill="#cccccc"/><rect x="58.4" y="99.5" width="14.1" height="15.0" fill="#cccccc"/><rect x="72.0" y="99.5" width="14.1" height="15.0" fill="#cccccc"/><rect x="85.6" y="99.5" width="14.1" height="15.0" fill="#dddddd"/><rect x="99.2" y="99.5" width="14.1" height="15.0" fill="#eeeeee"/><rect x="112.8" y="99.5" width="14.1" height="15.0" fill="#777777"/><rect x="126.4" y="99.5" width="14.1" height="15.0" fill="#888888"/><ellipse cx="123" cy="101" rx="5" ry="5" fill="#777777"/></g></g><use href="#ir"/><use href="#isl"/></g><rect x="9.45" y="206.00" width="148.20" height="114.90" fill="#e3e3e3" stroke="#242424" stroke-width="1.9"/><g transform="translate(9.45,206.00) scale(0.9946,0.9991)"><g clip-path="url(#ck)"><g filter="url(#bl)"><rect x="4.0" y="-2.0" width="14.1" height="15.0" fill="#666666"/><rect x="17.6" y="-2.0" width="14.1" height="15.0" fill="#666666"/><rect x="31.2" y="-2.0" width="14.1" height="15.0" fill="#666666"/><rect x="44.8" y="-2.0" width="14.1" height="15.0" fill="#666666"/><rect x="58.4" y="-2.0" width="14.1" height="15.0" fill="#666666"/><rect x="72.0" y="-2.0" width="14.1" height="15.0" fill="#888888"/><rect x="85.6" y="-2.0" width="14.1" height="15.0" fill="#777777"/><rect x="99.2" y="-2.0" width="14.1" height="15.0" fill="#555555"/><rect x="112.8" y="-2.0" width="14.1" height="15.0" fill="#444444"/><rect x="126.4" y="-2.0" width="14.1" height="15.0" fill="#444444"/><rect x="4.0" y="12.5" width="14.1" height="15.0" fill="#666666"/><rect x="17.6" y="12.5" width="14.1" height="15.0" fill="#666666"/><rect x="31.2" y="12.5" width="14.1" height="15.0" fill="#666666"/><rect x="44.8" y="12.5" width="14.1" height="15.0" fill="#666666"/><rect x="58.4" y="12.5" width="14.1" height="15.0" fill="#666666"/><rect x="72.0" y="12.5" width="14.1" height="15.0" fill="#888888"/><rect x="85.6" y="12.5" width="14.1" height="15.0" fill="#777777"/><rect x="99.2" y="12.5" width="14.1" height="15.0" fill="#555555"/><rect x="112.8" y="12.5" width="14.1" height="15.0" fill="#444444"/><rect x="126.4" y="12.5" width="14.1" height="15.0" fill="#444444"/><rect x="4.0" y="27.0" width="14.1" height="15.0" fill="#666666"/><rect x="17.6" y="27.0" width="14.1" height="15.0" fill="#666666"/><rect x="31.2" y="27.0" width="14.1" height="15.0" fill="#888888"/><rect x="44.8" y="27.0" width="14.1" height="15.0" fill="#999999"/><rect x="58.4" y="27.0" width="14.1" height="15.0" fill="#666666"/><rect x="72.0" y="27.0" width="14.1" height="15.0" fill="#555555"/><rect x="85.6" y="27.0" width="14.1" height="15.0" fill="#555555"/><rect x="99.2" y="27.0" width="14.1" height="15.0" fill="#555555"/><rect x="112.8" y="27.0" width="14.1" height="15.0" fill="#444444"/><rect x="126.4" y="27.0" width="14.1" height="15.0" fill="#444444"/><rect x="4.0" y="41.5" width="14.1" height="15.0" fill="#777777"/><rect x="17.6" y="41.5" width="14.1" height="15.0" fill="#777777"/><rect x="31.2" y="41.5" width="14.1" height="15.0" fill="#888888"/><rect x="44.8" y="41.5" width="14.1" height="15.0" fill="#777777"/><rect x="58.4" y="41.5" width="14.1" height="15.0" fill="#666666"/><rect x="72.0" y="41.5" width="14.1" height="15.0" fill="#333333"/><rect x="85.6" y="41.5" width="14.1" height="15.0" fill="#444444"/><rect x="99.2" y="41.5" width="14.1" height="15.0" fill="#444444"/><rect x="112.8" y="41.5" width="14.1" height="15.0" fill="#444444"/><rect x="126.4" y="41.5" width="14.1" height="15.0" fill="#444444"/><rect x="4.0" y="56.0" width="14.1" height="15.0" fill="#666666"/><rect x="17.6" y="56.0" width="14.1" height="15.0" fill="#666666"/><rect x="31.2" y="56.0" width="14.1" height="15.0" fill="#666666"/><rect x="44.8" y="56.0" width="14.1" height="15.0" fill="#666666"/><rect x="58.4" y="56.0" width="14.1" height="15.0" fill="#666666"/><rect x="72.0" y="56.0" width="14.1" height="15.0" fill="#555555"/><rect x="85.6" y="56.0" width="14.1" height="15.0" fill="#333333"/><rect x="99.2" y="56.0" width="14.1" height="15.0" fill="#333333"/><rect x="112.8" y="56.0" width="14.1" height="15.0" fill="#444444"/><rect x="126.4" y="56.0" width="14.1" height="15.0" fill="#444444"/><rect x="4.0" y="70.5" width="14.1" height="15.0" fill="#555555"/><rect x="17.6" y="70.5" width="14.1" height="15.0" fill="#555555"/><rect x="31.2" y="70.5" width="14.1" height="15.0" fill="#555555"/><rect x="44.8" y="70.5" width="14.1" height="15.0" fill="#555555"/><rect x="58.4" y="70.5" width="14.1" height="15.0" fill="#555555"/><rect x="72.0" y="70.5" width="14.1" height="15.0" fill="#444444"/><rect x="85.6" y="70.5" width="14.1" height="15.0" fill="#444444"/><rect x="99.2" y="70.5" width="14.1" height="15.0" fill="#333333"/><rect x="112.8" y="70.5" width="14.1" height="15.0" fill="#333333"/><rect x="126.4" y="70.5" width="14.1" height="15.0" fill="#333333"/><rect x="4.0" y="85.0" width="14.1" height="15.0" fill="#333333"/><rect x="17.6" y="85.0" width="14.1" height="15.0" fill="#333333"/><rect x="31.2" y="85.0" width="14.1" height="15.0" fill="#333333"/><rect x="44.8" y="85.0" width="14.1" height="15.0" fill="#333333"/><rect x="58.4" y="85.0" width="14.1" height="15.0" fill="#333333"/><rect x="72.0" y="85.0" width="14.1" height="15.0" fill="#222222"/><rect x="85.6" y="85.0" width="14.1" height="15.0" fill="#444444"/><rect x="99.2" y="85.0" width="14.1" height="15.0" fill="#333333"/><rect x="112.8" y="85.0" width="14.1" height="15.0" fill="#333333"/><rect x="126.4" y="85.0" width="14.1" height="15.0" fill="#444444"/><rect x="4.0" y="99.5" width="14.1" height="15.0" fill="#333333"/><rect x="17.6" y="99.5" width="14.1" height="15.0" fill="#333333"/><rect x="31.2" y="99.5" width="14.1" height="15.0" fill="#333333"/><rect x="44.8" y="99.5" width="14.1" height="15.0" fill="#333333"/><rect x="58.4" y="99.5" width="14.1" height="15.0" fill="#333333"/><rect x="72.0" y="99.5" width="14.1" height="15.0" fill="#333333"/><rect x="85.6" y="99.5" width="14.1" height="15.0" fill="#333333"/><rect x="99.2" y="99.5" width="14.1" height="15.0" fill="#444444"/><rect x="112.8" y="99.5" width="14.1" height="15.0" fill="#555555"/><rect x="126.4" y="99.5" width="14.1" height="15.0" fill="#555555"/></g></g><use href="#ir"/><use href="#isl"/></g><rect x="538.70" y="206.10" width="146.65" height="114.30" fill="#e3e3e3" stroke="#242424" stroke-width="1.9"/><g transform="translate(538.70,206.10) scale(0.9842,0.9939)"><g clip-path="url(#ck)"><g filter="url(#bl)"><rect x="4.0" y="-2.0" width="14.1" height="15.0" fill="#777777"/><rect x="17.6" y="-2.0" width="14.1" height="15.0" fill="#666666"/><rect x="31.2" y="-2.0" width="14.1" height="15.0" fill="#666666"/><rect x="44.8" y="-2.0" width="14.1" height="15.0" fill="#666666"/><rect x="58.4" y="-2.0" width="14.1" height="15.0" fill="#666666"/><rect x="72.0" y="-2.0" width="14.1" height="15.0" fill="#666666"/><rect x="85.6" y="-2.0" width="14.1" height="15.0" fill="#888888"/><rect x="99.2" y="-2.0" width="14.1" height="15.0" fill="#aaaaaa"/><rect x="112.8" y="-2.0" width="14.1" height="15.0" fill="#999999"/><rect x="126.4" y="-2.0" width="14.1" height="15.0" fill="#999999"/><rect x="4.0" y="12.5" width="14.1" height="15.0" fill="#888888"/><rect x="17.6" y="12.5" width="14.1" height="15.0" fill="#777777"/><rect x="31.2" y="12.5" width="14.1" height="15.0" fill="#666666"/><rect x="44.8" y="12.5" width="14.1" height="15.0" fill="#666666"/><rect x="58.4" y="12.5" width="14.1" height="15.0" fill="#666666"/><rect x="72.0" y="12.5" width="14.1" height="15.0" fill="#666666"/><rect x="85.6" y="12.5" width="14.1" height="15.0" fill="#888888"/><rect x="99.2" y="12.5" width="14.1" height="15.0" fill="#aaaaaa"/><rect x="112.8" y="12.5" width="14.1" height="15.0" fill="#999999"/><rect x="126.4" y="12.5" width="14.1" height="15.0" fill="#999999"/><rect x="4.0" y="27.0" width="14.1" height="15.0" fill="#777777"/><rect x="17.6" y="27.0" width="14.1" height="15.0" fill="#777777"/><rect x="31.2" y="27.0" width="14.1" height="15.0" fill="#666666"/><rect x="44.8" y="27.0" width="14.1" height="15.0" fill="#666666"/><rect x="58.4" y="27.0" width="14.1" height="15.0" fill="#666666"/><rect x="72.0" y="27.0" width="14.1" height="15.0" fill="#666666"/><rect x="85.6" y="27.0" width="14.1" height="15.0" fill="#999999"/><rect x="99.2" y="27.0" width="14.1" height="15.0" fill="#aaaaaa"/><rect x="112.8" y="27.0" width="14.1" height="15.0" fill="#aaaaaa"/><rect x="126.4" y="27.0" width="14.1" height="15.0" fill="#aaaaaa"/><rect x="4.0" y="41.5" width="14.1" height="15.0" fill="#666666"/><rect x="17.6" y="41.5" width="14.1" height="15.0" fill="#555555"/><rect x="31.2" y="41.5" width="14.1" height="15.0" fill="#888888"/><rect x="44.8" y="41.5" width="14.1" height="15.0" fill="#999999"/><rect x="58.4" y="41.5" width="14.1" height="15.0" fill="#999999"/><rect x="72.0" y="41.5" width="14.1" height="15.0" fill="#666666"/><rect x="85.6" y="41.5" width="14.1" height="15.0" fill="#999999"/><rect x="99.2" y="41.5" width="14.1" height="15.0" fill="#888888"/><rect x="112.8" y="41.5" width="14.1" height="15.0" fill="#555555"/><rect x="126.4" y="41.5" width="14.1" height="15.0" fill="#555555"/><rect x="4.0" y="56.0" width="14.1" height="15.0" fill="#666666"/><rect x="17.6" y="56.0" width="14.1" height="15.0" fill="#666666"/><rect x="31.2" y="56.0" width="14.1" height="15.0" fill="#666666"/><rect x="44.8" y="56.0" width="14.1" height="15.0" fill="#555555"/><rect x="58.4" y="56.0" width="14.1" height="15.0" fill="#555555"/><rect x="72.0" y="56.0" width="14.1" height="15.0" fill="#555555"/><rect x="85.6" y="56.0" width="14.1" height="15.0" fill="#555555"/><rect x="99.2" y="56.0" width="14.1" height="15.0" fill="#444444"/><rect x="112.8" y="56.0" width="14.1" height="15.0" fill="#444444"/><rect x="126.4" y="56.0" width="14.1" height="15.0" fill="#444444"/><rect x="4.0" y="70.5" width="14.1" height="15.0" fill="#555555"/><rect x="17.6" y="70.5" width="14.1" height="15.0" fill="#555555"/><rect x="31.2" y="70.5" width="14.1" height="15.0" fill="#555555"/><rect x="44.8" y="70.5" width="14.1" height="15.0" fill="#444444"/><rect x="58.4" y="70.5" width="14.1" height="15.0" fill="#333333"/><rect x="72.0" y="70.5" width="14.1" height="15.0" fill="#444444"/><rect x="85.6" y="70.5" width="14.1" height="15.0" fill="#333333"/><rect x="99.2" y="70.5" width="14.1" height="15.0" fill="#555555"/><rect x="112.8" y="70.5" width="14.1" height="15.0" fill="#444444"/><rect x="126.4" y="70.5" width="14.1" height="15.0" fill="#444444"/><rect x="4.0" y="85.0" width="14.1" height="15.0" fill="#333333"/><rect x="17.6" y="85.0" width="14.1" height="15.0" fill="#333333"/><rect x="31.2" y="85.0" width="14.1" height="15.0" fill="#333333"/><rect x="44.8" y="85.0" width="14.1" height="15.0" fill="#333333"/><rect x="58.4" y="85.0" width="14.1" height="15.0" fill="#222222"/><rect x="72.0" y="85.0" width="14.1" height="15.0" fill="#222222"/><rect x="85.6" y="85.0" width="14.1" height="15.0" fill="#333333"/><rect x="99.2" y="85.0" width="14.1" height="15.0" fill="#444444"/><rect x="112.8" y="85.0" width="14.1" height="15.0" fill="#444444"/><rect x="126.4" y="85.0" width="14.1" height="15.0" fill="#444444"/><rect x="4.0" y="99.5" width="14.1" height="15.0" fill="#222222"/><rect x="17.6" y="99.5" width="14.1" height="15.0" fill="#222222"/><rect x="31.2" y="99.5" width="14.1" height="15.0" fill="#222222"/><rect x="44.8" y="99.5" width="14.1" height="15.0" fill="#222222"/><rect x="58.4" y="99.5" width="14.1" height="15.0" fill="#222222"/><rect x="72.0" y="99.5" width="14.1" height="15.0" fill="#222222"/><rect x="85.6" y="99.5" width="14.1" height="15.0" fill="#333333"/><rect x="99.2" y="99.5" width="14.1" height="15.0" fill="#333333"/><rect x="112.8" y="99.5" width="14.1" height="15.0" fill="#333333"/><rect x="126.4" y="99.5" width="14.1" height="15.0" fill="#333333"/></g></g><use href="#ir"/><use href="#isl"/></g><rect x="163.30" y="206.00" width="148.55" height="114.90" fill="#e3e3e3" stroke="#242424" stroke-width="1.9"/><g transform="translate(163.30,206.00) scale(0.9970,0.9991)"><g clip-path="url(#ck)"><g filter="url(#bl)"><rect x="4.0" y="-2.0" width="14.1" height="15.0" fill="#777777"/><rect x="17.6" y="-2.0" width="14.1" height="15.0" fill="#777777"/><rect x="31.2" y="-2.0" width="14.1" height="15.0" fill="#555555"/><rect x="44.8" y="-2.0" width="14.1" height="15.0" fill="#555555"/><rect x="58.4" y="-2.0" width="14.1" height="15.0" fill="#444444"/><rect x="72.0" y="-2.0" width="14.1" height="15.0" fill="#444444"/><rect x="85.6" y="-2.0" width="14.1" height="15.0" fill="#555555"/><rect x="99.2" y="-2.0" width="14.1" height="15.0" fill="#444444"/><rect x="112.8" y="-2.0" width="14.1" height="15.0" fill="#444444"/><rect x="126.4" y="-2.0" width="14.1" height="15.0" fill="#444444"/><rect x="4.0" y="12.5" width="14.1" height="15.0" fill="#555555"/><rect x="17.6" y="12.5" width="14.1" height="15.0" fill="#555555"/><rect x="31.2" y="12.5" width="14.1" height="15.0" fill="#666666"/><rect x="44.8" y="12.5" width="14.1" height="15.0" fill="#555555"/><rect x="58.4" y="12.5" width="14.1" height="15.0" fill="#444444"/><rect x="72.0" y="12.5" width="14.1" height="15.0" fill="#444444"/><rect x="85.6" y="12.5" width="14.1" height="15.0" fill="#555555"/><rect x="99.2" y="12.5" width="14.1" height="15.0" fill="#444444"/><rect x="112.8" y="12.5" width="14.1" height="15.0" fill="#444444"/><rect x="126.4" y="12.5" width="14.1" height="15.0" fill="#444444"/><rect x="4.0" y="27.0" width="14.1" height="15.0" fill="#333333"/><rect x="17.6" y="27.0" width="14.1" height="15.0" fill="#333333"/><rect x="31.2" y="27.0" width="14.1" height="15.0" fill="#333333"/><rect x="44.8" y="27.0" width="14.1" height="15.0" fill="#666666"/><rect x="58.4" y="27.0" width="14.1" height="15.0" fill="#555555"/><rect x="72.0" y="27.0" width="14.1" height="15.0" fill="#333333"/><rect x="85.6" y="27.0" width="14.1" height="15.0" fill="#444444"/><rect x="99.2" y="27.0" width="14.1" height="15.0" fill="#444444"/><rect x="112.8" y="27.0" width="14.1" height="15.0" fill="#444444"/><rect x="126.4" y="27.0" width="14.1" height="15.0" fill="#444444"/><rect x="4.0" y="41.5" width="14.1" height="15.0" fill="#333333"/><rect x="17.6" y="41.5" width="14.1" height="15.0" fill="#333333"/><rect x="31.2" y="41.5" width="14.1" height="15.0" fill="#555555"/><rect x="44.8" y="41.5" width="14.1" height="15.0" fill="#666666"/><rect x="58.4" y="41.5" width="14.1" height="15.0" fill="#444444"/><rect x="72.0" y="41.5" width="14.1" height="15.0" fill="#333333"/><rect x="85.6" y="41.5" width="14.1" height="15.0" fill="#444444"/><rect x="99.2" y="41.5" width="14.1" height="15.0" fill="#333333"/><rect x="112.8" y="41.5" width="14.1" height="15.0" fill="#444444"/><rect x="126.4" y="41.5" width="14.1" height="15.0" fill="#444444"/><rect x="4.0" y="56.0" width="14.1" height="15.0" fill="#444444"/><rect x="17.6" y="56.0" width="14.1" height="15.0" fill="#444444"/><rect x="31.2" y="56.0" width="14.1" height="15.0" fill="#444444"/><rect x="44.8" y="56.0" width="14.1" height="15.0" fill="#333333"/><rect x="58.4" y="56.0" width="14.1" height="15.0" fill="#333333"/><rect x="72.0" y="56.0" width="14.1" height="15.0" fill="#333333"/><rect x="85.6" y="56.0" width="14.1" height="15.0" fill="#333333"/><rect x="99.2" y="56.0" width="14.1" height="15.0" fill="#333333"/><rect x="112.8" y="56.0" width="14.1" height="15.0" fill="#444444"/><rect x="126.4" y="56.0" width="14.1" height="15.0" fill="#444444"/><rect x="4.0" y="70.5" width="14.1" height="15.0" fill="#333333"/><rect x="17.6" y="70.5" width="14.1" height="15.0" fill="#333333"/><rect x="31.2" y="70.5" width="14.1" height="15.0" fill="#333333"/><rect x="44.8" y="70.5" width="14.1" height="15.0" fill="#222222"/><rect x="58.4" y="70.5" width="14.1" height="15.0" fill="#222222"/><rect x="72.0" y="70.5" width="14.1" height="15.0" fill="#222222"/><rect x="85.6" y="70.5" width="14.1" height="15.0" fill="#333333"/><rect x="99.2" y="70.5" width="14.1" height="15.0" fill="#333333"/><rect x="112.8" y="70.5" width="14.1" height="15.0" fill="#222222"/><rect x="126.4" y="70.5" width="14.1" height="15.0" fill="#222222"/><rect x="4.0" y="85.0" width="14.1" height="15.0" fill="#222222"/><rect x="17.6" y="85.0" width="14.1" height="15.0" fill="#222222"/><rect x="31.2" y="85.0" width="14.1" height="15.0" fill="#222222"/><rect x="44.8" y="85.0" width="14.1" height="15.0" fill="#222222"/><rect x="58.4" y="85.0" width="14.1" height="15.0" fill="#222222"/><rect x="72.0" y="85.0" width="14.1" height="15.0" fill="#222222"/><rect x="85.6" y="85.0" width="14.1" height="15.0" fill="#333333"/><rect x="99.2" y="85.0" width="14.1" height="15.0" fill="#222222"/><rect x="112.8" y="85.0" width="14.1" height="15.0" fill="#222222"/><rect x="126.4" y="85.0" width="14.1" height="15.0" fill="#333333"/><rect x="4.0" y="99.5" width="14.1" height="15.0" fill="#222222"/><rect x="17.6" y="99.5" width="14.1" height="15.0" fill="#222222"/><rect x="31.2" y="99.5" width="14.1" height="15.0" fill="#222222"/><rect x="44.8" y="99.5" width="14.1" height="15.0" fill="#222222"/><rect x="58.4" y="99.5" width="14.1" height="15.0" fill="#222222"/><rect x="72.0" y="99.5" width="14.1" height="15.0" fill="#222222"/><rect x="85.6" y="99.5" width="14.1" height="15.0" fill="#222222"/><rect x="99.2" y="99.5" width="14.1" height="15.0" fill="#222222"/><rect x="112.8" y="99.5" width="14.1" height="15.0" fill="#333333"/><rect x="126.4" y="99.5" width="14.1" height="15.0" fill="#333333"/></g></g><use href="#ir"/><use href="#isl"/></g><rect x="691.00" y="206.10" width="147.05" height="114.30" fill="#e3e3e3" stroke="#242424" stroke-width="1.9"/><g transform="translate(691.00,206.10) scale(0.9869,0.9939)"><g clip-path="url(#ck)"><g filter="url(#bl)"><rect x="4.0" y="-2.0" width="14.1" height="15.0" fill="#666666"/><rect x="17.6" y="-2.0" width="14.1" height="15.0" fill="#666666"/><rect x="31.2" y="-2.0" width="14.1" height="15.0" fill="#555555"/><rect x="44.8" y="-2.0" width="14.1" height="15.0" fill="#444444"/><rect x="58.4" y="-2.0" width="14.1" height="15.0" fill="#444444"/><rect x="72.0" y="-2.0" width="14.1" height="15.0" fill="#444444"/><rect x="85.6" y="-2.0" width="14.1" height="15.0" fill="#555555"/><rect x="99.2" y="-2.0" width="14.1" height="15.0" fill="#555555"/><rect x="112.8" y="-2.0" width="14.1" height="15.0" fill="#555555"/><rect x="126.4" y="-2.0" width="14.1" height="15.0" fill="#555555"/><rect x="4.0" y="12.5" width="14.1" height="15.0" fill="#666666"/><rect x="17.6" y="12.5" width="14.1" height="15.0" fill="#666666"/><rect x="31.2" y="12.5" width="14.1" height="15.0" fill="#444444"/><rect x="44.8" y="12.5" width="14.1" height="15.0" fill="#444444"/><rect x="58.4" y="12.5" width="14.1" height="15.0" fill="#444444"/><rect x="72.0" y="12.5" width="14.1" height="15.0" fill="#444444"/><rect x="85.6" y="12.5" width="14.1" height="15.0" fill="#555555"/><rect x="99.2" y="12.5" width="14.1" height="15.0" fill="#555555"/><rect x="112.8" y="12.5" width="14.1" height="15.0" fill="#555555"/><rect x="126.4" y="12.5" width="14.1" height="15.0" fill="#555555"/><rect x="4.0" y="27.0" width="14.1" height="15.0" fill="#333333"/><rect x="17.6" y="27.0" width="14.1" height="15.0" fill="#444444"/><rect x="31.2" y="27.0" width="14.1" height="15.0" fill="#444444"/><rect x="44.8" y="27.0" width="14.1" height="15.0" fill="#444444"/><rect x="58.4" y="27.0" width="14.1" height="15.0" fill="#333333"/><rect x="72.0" y="27.0" width="14.1" height="15.0" fill="#333333"/><rect x="85.6" y="27.0" width="14.1" height="15.0" fill="#555555"/><rect x="99.2" y="27.0" width="14.1" height="15.0" fill="#555555"/><rect x="112.8" y="27.0" width="14.1" height="15.0" fill="#444444"/><rect x="126.4" y="27.0" width="14.1" height="15.0" fill="#444444"/><rect x="4.0" y="41.5" width="14.1" height="15.0" fill="#222222"/><rect x="17.6" y="41.5" width="14.1" height="15.0" fill="#222222"/><rect x="31.2" y="41.5" width="14.1" height="15.0" fill="#333333"/><rect x="44.8" y="41.5" width="14.1" height="15.0" fill="#444444"/><rect x="58.4" y="41.5" width="14.1" height="15.0" fill="#333333"/><rect x="72.0" y="41.5" width="14.1" height="15.0" fill="#222222"/><rect x="85.6" y="41.5" width="14.1" height="15.0" fill="#222222"/><rect x="99.2" y="41.5" width="14.1" height="15.0" fill="#222222"/><rect x="112.8" y="41.5" width="14.1" height="15.0" fill="#333333"/><rect x="126.4" y="41.5" width="14.1" height="15.0" fill="#333333"/><rect x="4.0" y="56.0" width="14.1" height="15.0" fill="#222222"/><rect x="17.6" y="56.0" width="14.1" height="15.0" fill="#222222"/><rect x="31.2" y="56.0" width="14.1" height="15.0" fill="#222222"/><rect x="44.8" y="56.0" width="14.1" height="15.0" fill="#222222"/><rect x="58.4" y="56.0" width="14.1" height="15.0" fill="#222222"/><rect x="72.0" y="56.0" width="14.1" height="15.0" fill="#222222"/><rect x="85.6" y="56.0" width="14.1" height="15.0" fill="#222222"/><rect x="99.2" y="56.0" width="14.1" height="15.0" fill="#222222"/><rect x="112.8" y="56.0" width="14.1" height="15.0" fill="#222222"/><rect x="126.4" y="56.0" width="14.1" height="15.0" fill="#222222"/><rect x="4.0" y="70.5" width="14.1" height="15.0" fill="#222222"/><rect x="17.6" y="70.5" width="14.1" height="15.0" fill="#222222"/><rect x="31.2" y="70.5" width="14.1" height="15.0" fill="#222222"/><rect x="44.8" y="70.5" width="14.1" height="15.0" fill="#222222"/><rect x="58.4" y="70.5" width="14.1" height="15.0" fill="#222222"/><rect x="72.0" y="70.5" width="14.1" height="15.0" fill="#222222"/><rect x="85.6" y="70.5" width="14.1" height="15.0" fill="#222222"/><rect x="99.2" y="70.5" width="14.1" height="15.0" fill="#222222"/><rect x="112.8" y="70.5" width="14.1" height="15.0" fill="#222222"/><rect x="126.4" y="70.5" width="14.1" height="15.0" fill="#222222"/><rect x="4.0" y="85.0" width="14.1" height="15.0" fill="#222222"/><rect x="17.6" y="85.0" width="14.1" height="15.0" fill="#222222"/><rect x="31.2" y="85.0" width="14.1" height="15.0" fill="#222222"/><rect x="44.8" y="85.0" width="14.1" height="15.0" fill="#222222"/><rect x="58.4" y="85.0" width="14.1" height="15.0" fill="#222222"/><rect x="72.0" y="85.0" width="14.1" height="15.0" fill="#222222"/><rect x="85.6" y="85.0" width="14.1" height="15.0" fill="#222222"/><rect x="99.2" y="85.0" width="14.1" height="15.0" fill="#222222"/><rect x="112.8" y="85.0" width="14.1" height="15.0" fill="#222222"/><rect x="126.4" y="85.0" width="14.1" height="15.0" fill="#333333"/><rect x="4.0" y="99.5" width="14.1" height="15.0" fill="#222222"/><rect x="17.6" y="99.5" width="14.1" height="15.0" fill="#222222"/><rect x="31.2" y="99.5" width="14.1" height="15.0" fill="#222222"/><rect x="44.8" y="99.5" width="14.1" height="15.0" fill="#222222"/><rect x="58.4" y="99.5" width="14.1" height="15.0" fill="#222222"/><rect x="72.0" y="99.5" width="14.1" height="15.0" fill="#222222"/><rect x="85.6" y="99.5" width="14.1" height="15.0" fill="#222222"/><rect x="99.2" y="99.5" width="14.1" height="15.0" fill="#222222"/><rect x="112.8" y="99.5" width="14.1" height="15.0" fill="#333333"/><rect x="126.4" y="99.5" width="14.1" height="15.0" fill="#333333"/></g></g><use href="#ir"/><use href="#isl"/></g><rect x="317.60" y="206.00" width="148.40" height="114.90" fill="#e3e3e3" stroke="#242424" stroke-width="1.9"/><g transform="translate(317.60,206.00) scale(0.9960,0.9991)"><g clip-path="url(#ck)"><g filter="url(#bq)"><rect x="4.0" y="-2.0" width="14.1" height="15.0" fill="#333333"/><rect x="17.6" y="-2.0" width="14.1" height="15.0" fill="#333333"/><rect x="31.2" y="-2.0" width="14.1" height="15.0" fill="#222222"/><rect x="44.8" y="-2.0" width="14.1" height="15.0" fill="#111111"/><rect x="58.4" y="-2.0" width="14.1" height="15.0" fill="#111111"/><rect x="72.0" y="-2.0" width="14.1" height="15.0" fill="#111111"/><rect x="85.6" y="-2.0" width="14.1" height="15.0" fill="#111111"/><rect x="99.2" y="-2.0" width="14.1" height="15.0" fill="#111111"/><rect x="112.8" y="-2.0" width="14.1" height="15.0" fill="#111111"/><rect x="126.4" y="-2.0" width="14.1" height="15.0" fill="#111111"/><rect x="4.0" y="12.5" width="14.1" height="15.0" fill="#222222"/><rect x="17.6" y="12.5" width="14.1" height="15.0" fill="#222222"/><rect x="31.2" y="12.5" width="14.1" height="15.0" fill="#333333"/><rect x="44.8" y="12.5" width="14.1" height="15.0" fill="#111111"/><rect x="58.4" y="12.5" width="14.1" height="15.0" fill="#111111"/><rect x="72.0" y="12.5" width="14.1" height="15.0" fill="#111111"/><rect x="85.6" y="12.5" width="14.1" height="15.0" fill="#111111"/><rect x="99.2" y="12.5" width="14.1" height="15.0" fill="#111111"/><rect x="112.8" y="12.5" width="14.1" height="15.0" fill="#111111"/><rect x="126.4" y="12.5" width="14.1" height="15.0" fill="#111111"/><rect x="4.0" y="27.0" width="14.1" height="15.0" fill="#111111"/><rect x="17.6" y="27.0" width="14.1" height="15.0" fill="#111111"/><rect x="31.2" y="27.0" width="14.1" height="15.0" fill="#111111"/><rect x="44.8" y="27.0" width="14.1" height="15.0" fill="#111111"/><rect x="58.4" y="27.0" width="14.1" height="15.0" fill="#222222"/><rect x="72.0" y="27.0" width="14.1" height="15.0" fill="#111111"/><rect x="85.6" y="27.0" width="14.1" height="15.0" fill="#111111"/><rect x="99.2" y="27.0" width="14.1" height="15.0" fill="#111111"/><rect x="112.8" y="27.0" width="14.1" height="15.0" fill="#111111"/><rect x="126.4" y="27.0" width="14.1" height="15.0" fill="#111111"/><rect x="4.0" y="41.5" width="14.1" height="15.0" fill="#111111"/><rect x="17.6" y="41.5" width="14.1" height="15.0" fill="#111111"/><rect x="31.2" y="41.5" width="14.1" height="15.0" fill="#111111"/><rect x="44.8" y="41.5" width="14.1" height="15.0" fill="#111111"/><rect x="58.4" y="41.5" width="14.1" height="15.0" fill="#111111"/><rect x="72.0" y="41.5" width="14.1" height="15.0" fill="#111111"/><rect x="85.6" y="41.5" width="14.1" height="15.0" fill="#111111"/><rect x="99.2" y="41.5" width="14.1" height="15.0" fill="#111111"/><rect x="112.8" y="41.5" width="14.1" height="15.0" fill="#111111"/><rect x="126.4" y="41.5" width="14.1" height="15.0" fill="#111111"/><rect x="4.0" y="56.0" width="14.1" height="15.0" fill="#111111"/><rect x="17.6" y="56.0" width="14.1" height="15.0" fill="#111111"/><rect x="31.2" y="56.0" width="14.1" height="15.0" fill="#111111"/><rect x="44.8" y="56.0" width="14.1" height="15.0" fill="#111111"/><rect x="58.4" y="56.0" width="14.1" height="15.0" fill="#111111"/><rect x="72.0" y="56.0" width="14.1" height="15.0" fill="#111111"/><rect x="85.6" y="56.0" width="14.1" height="15.0" fill="#111111"/><rect x="99.2" y="56.0" width="14.1" height="15.0" fill="#111111"/><rect x="112.8" y="56.0" width="14.1" height="15.0" fill="#111111"/><rect x="126.4" y="56.0" width="14.1" height="15.0" fill="#111111"/><rect x="4.0" y="70.5" width="14.1" height="15.0" fill="#111111"/><rect x="17.6" y="70.5" width="14.1" height="15.0" fill="#111111"/><rect x="31.2" y="70.5" width="14.1" height="15.0" fill="#111111"/><rect x="44.8" y="70.5" width="14.1" height="15.0" fill="#111111"/><rect x="58.4" y="70.5" width="14.1" height="15.0" fill="#111111"/><rect x="72.0" y="70.5" width="14.1" height="15.0" fill="#111111"/><rect x="85.6" y="70.5" width="14.1" height="15.0" fill="#222222"/><rect x="99.2" y="70.5" width="14.1" height="15.0" fill="#333333"/><rect x="112.8" y="70.5" width="14.1" height="15.0" fill="#111111"/><rect x="126.4" y="70.5" width="14.1" height="15.0" fill="#111111"/><rect x="4.0" y="85.0" width="14.1" height="15.0" fill="#111111"/><rect x="17.6" y="85.0" width="14.1" height="15.0" fill="#111111"/><rect x="31.2" y="85.0" width="14.1" height="15.0" fill="#111111"/><rect x="44.8" y="85.0" width="14.1" height="15.0" fill="#111111"/><rect x="58.4" y="85.0" width="14.1" height="15.0" fill="#111111"/><rect x="72.0" y="85.0" width="14.1" height="15.0" fill="#222222"/><rect x="85.6" y="85.0" width="14.1" height="15.0" fill="#222222"/><rect x="99.2" y="85.0" width="14.1" height="15.0" fill="#222222"/><rect x="112.8" y="85.0" width="14.1" height="15.0" fill="#222222"/><rect x="126.4" y="85.0" width="14.1" height="15.0" fill="#333333"/><rect x="4.0" y="99.5" width="14.1" height="15.0" fill="#111111"/><rect x="17.6" y="99.5" width="14.1" height="15.0" fill="#111111"/><rect x="31.2" y="99.5" width="14.1" height="15.0" fill="#111111"/><rect x="44.8" y="99.5" width="14.1" height="15.0" fill="#111111"/><rect x="58.4" y="99.5" width="14.1" height="15.0" fill="#111111"/><rect x="72.0" y="99.5" width="14.1" height="15.0" fill="#111111"/><rect x="85.6" y="99.5" width="14.1" height="15.0" fill="#222222"/><rect x="99.2" y="99.5" width="14.1" height="15.0" fill="#222222"/><rect x="112.8" y="99.5" width="14.1" height="15.0" fill="#333333"/><rect x="126.4" y="99.5" width="14.1" height="15.0" fill="#444444"/></g></g><use href="#ir"/><use href="#isl"/></g><rect x="844.00" y="206.10" width="146.70" height="114.30" fill="#e3e3e3" stroke="#242424" stroke-width="1.9"/><g transform="translate(844.00,206.10) scale(0.9846,0.9939)"><g clip-path="url(#ck)"><g filter="url(#bq)"><rect x="4.0" y="-2.0" width="14.1" height="15.0" fill="#666666"/><rect x="17.6" y="-2.0" width="14.1" height="15.0" fill="#555555"/><rect x="31.2" y="-2.0" width="14.1" height="15.0" fill="#333333"/><rect x="44.8" y="-2.0" width="14.1" height="15.0" fill="#222222"/><rect x="58.4" y="-2.0" width="14.1" height="15.0" fill="#222222"/><rect x="72.0" y="-2.0" width="14.1" height="15.0" fill="#222222"/><rect x="85.6" y="-2.0" width="14.1" height="15.0" fill="#333333"/><rect x="99.2" y="-2.0" width="14.1" height="15.0" fill="#222222"/><rect x="112.8" y="-2.0" width="14.1" height="15.0" fill="#222222"/><rect x="126.4" y="-2.0" width="14.1" height="15.0" fill="#222222"/><rect x="4.0" y="12.5" width="14.1" height="15.0" fill="#444444"/><rect x="17.6" y="12.5" width="14.1" height="15.0" fill="#444444"/><rect x="31.2" y="12.5" width="14.1" height="15.0" fill="#222222"/><rect x="44.8" y="12.5" width="14.1" height="15.0" fill="#222222"/><rect x="58.4" y="12.5" width="14.1" height="15.0" fill="#222222"/><rect x="72.0" y="12.5" width="14.1" height="15.0" fill="#333333"/><rect x="85.6" y="12.5" width="14.1" height="15.0" fill="#333333"/><rect x="99.2" y="12.5" width="14.1" height="15.0" fill="#222222"/><rect x="112.8" y="12.5" width="14.1" height="15.0" fill="#222222"/><rect x="126.4" y="12.5" width="14.1" height="15.0" fill="#222222"/><rect x="4.0" y="27.0" width="14.1" height="15.0" fill="#111111"/><rect x="17.6" y="27.0" width="14.1" height="15.0" fill="#111111"/><rect x="31.2" y="27.0" width="14.1" height="15.0" fill="#111111"/><rect x="44.8" y="27.0" width="14.1" height="15.0" fill="#111111"/><rect x="58.4" y="27.0" width="14.1" height="15.0" fill="#333333"/><rect x="72.0" y="27.0" width="14.1" height="15.0" fill="#333333"/><rect x="85.6" y="27.0" width="14.1" height="15.0" fill="#222222"/><rect x="99.2" y="27.0" width="14.1" height="15.0" fill="#222222"/><rect x="112.8" y="27.0" width="14.1" height="15.0" fill="#111111"/><rect x="126.4" y="27.0" width="14.1" height="15.0" fill="#111111"/><rect x="4.0" y="41.5" width="14.1" height="15.0" fill="#111111"/><rect x="17.6" y="41.5" width="14.1" height="15.0" fill="#111111"/><rect x="31.2" y="41.5" width="14.1" height="15.0" fill="#111111"/><rect x="44.8" y="41.5" width="14.1" height="15.0" fill="#111111"/><rect x="58.4" y="41.5" width="14.1" height="15.0" fill="#111111"/><rect x="72.0" y="41.5" width="14.1" height="15.0" fill="#111111"/><rect x="85.6" y="41.5" width="14.1" height="15.0" fill="#111111"/><rect x="99.2" y="41.5" width="14.1" height="15.0" fill="#111111"/><rect x="112.8" y="41.5" width="14.1" height="15.0" fill="#111111"/><rect x="126.4" y="41.5" width="14.1" height="15.0" fill="#111111"/><rect x="4.0" y="56.0" width="14.1" height="15.0" fill="#111111"/><rect x="17.6" y="56.0" width="14.1" height="15.0" fill="#111111"/><rect x="31.2" y="56.0" width="14.1" height="15.0" fill="#111111"/><rect x="44.8" y="56.0" width="14.1" height="15.0" fill="#111111"/><rect x="58.4" y="56.0" width="14.1" height="15.0" fill="#111111"/><rect x="72.0" y="56.0" width="14.1" height="15.0" fill="#111111"/><rect x="85.6" y="56.0" width="14.1" height="15.0" fill="#111111"/><rect x="99.2" y="56.0" width="14.1" height="15.0" fill="#111111"/><rect x="112.8" y="56.0" width="14.1" height="15.0" fill="#111111"/><rect x="126.4" y="56.0" width="14.1" height="15.0" fill="#111111"/><rect x="4.0" y="70.5" width="14.1" height="15.0" fill="#111111"/><rect x="17.6" y="70.5" width="14.1" height="15.0" fill="#111111"/><rect x="31.2" y="70.5" width="14.1" height="15.0" fill="#111111"/><rect x="44.8" y="70.5" width="14.1" height="15.0" fill="#111111"/><rect x="58.4" y="70.5" width="14.1" height="15.0" fill="#111111"/><rect x="72.0" y="70.5" width="14.1" height="15.0" fill="#111111"/><rect x="85.6" y="70.5" width="14.1" height="15.0" fill="#111111"/><rect x="99.2" y="70.5" width="14.1" height="15.0" fill="#222222"/><rect x="112.8" y="70.5" width="14.1" height="15.0" fill="#222222"/><rect x="126.4" y="70.5" width="14.1" height="15.0" fill="#222222"/><rect x="4.0" y="85.0" width="14.1" height="15.0" fill="#111111"/><rect x="17.6" y="85.0" width="14.1" height="15.0" fill="#111111"/><rect x="31.2" y="85.0" width="14.1" height="15.0" fill="#111111"/><rect x="44.8" y="85.0" width="14.1" height="15.0" fill="#111111"/><rect x="58.4" y="85.0" width="14.1" height="15.0" fill="#111111"/><rect x="72.0" y="85.0" width="14.1" height="15.0" fill="#111111"/><rect x="85.6" y="85.0" width="14.1" height="15.0" fill="#222222"/><rect x="99.2" y="85.0" width="14.1" height="15.0" fill="#222222"/><rect x="112.8" y="85.0" width="14.1" height="15.0" fill="#444444"/><rect x="126.4" y="85.0" width="14.1" height="15.0" fill="#555555"/><rect x="4.0" y="99.5" width="14.1" height="15.0" fill="#111111"/><rect x="17.6" y="99.5" width="14.1" height="15.0" fill="#111111"/><rect x="31.2" y="99.5" width="14.1" height="15.0" fill="#111111"/><rect x="44.8" y="99.5" width="14.1" height="15.0" fill="#111111"/><rect x="58.4" y="99.5" width="14.1" height="15.0" fill="#111111"/><rect x="72.0" y="99.5" width="14.1" height="15.0" fill="#111111"/><rect x="85.6" y="99.5" width="14.1" height="15.0" fill="#222222"/><rect x="99.2" y="99.5" width="14.1" height="15.0" fill="#444444"/><rect x="112.8" y="99.5" width="14.1" height="15.0" fill="#666666"/><rect x="126.4" y="99.5" width="14.1" height="15.0" fill="#555555"/><ellipse cx="131" cy="97" rx="5" ry="4" fill="#666666"/><ellipse cx="121" cy="104" rx="7" ry="5" fill="#ffffff"/></g></g><use href="#ir"/><use href="#isl"/></g><rect x="9.45" y="346.00" width="148.20" height="114.90" fill="#e3e3e3" stroke="#242424" stroke-width="1.9"/><g transform="translate(9.45,346.00) scale(0.9946,0.9991)"><g clip-path="url(#ck)"><g filter="url(#bq)"><rect x="4.0" y="-2.0" width="14.1" height="15.0" fill="#111111"/><rect x="17.6" y="-2.0" width="14.1" height="15.0" fill="#111111"/><rect x="31.2" y="-2.0" width="14.1" height="15.0" fill="#111111"/><rect x="44.8" y="-2.0" width="14.1" height="15.0" fill="#111111"/><rect x="58.4" y="-2.0" width="14.1" height="15.0" fill="#111111"/><rect x="72.0" y="-2.0" width="14.1" height="15.0" fill="#111111"/><rect x="85.6" y="-2.0" width="14.1" height="15.0" fill="#111111"/><rect x="99.2" y="-2.0" width="14.1" height="15.0" fill="#111111"/><rect x="112.8" y="-2.0" width="14.1" height="15.0" fill="#111111"/><rect x="126.4" y="-2.0" width="14.1" height="15.0" fill="#111111"/><rect x="4.0" y="12.5" width="14.1" height="15.0" fill="#111111"/><rect x="17.6" y="12.5" width="14.1" height="15.0" fill="#111111"/><rect x="31.2" y="12.5" width="14.1" height="15.0" fill="#111111"/><rect x="44.8" y="12.5" width="14.1" height="15.0" fill="#111111"/><rect x="58.4" y="12.5" width="14.1" height="15.0" fill="#111111"/><rect x="72.0" y="12.5" width="14.1" height="15.0" fill="#111111"/><rect x="85.6" y="12.5" width="14.1" height="15.0" fill="#111111"/><rect x="99.2" y="12.5" width="14.1" height="15.0" fill="#111111"/><rect x="112.8" y="12.5" width="14.1" height="15.0" fill="#111111"/><rect x="126.4" y="12.5" width="14.1" height="15.0" fill="#111111"/><rect x="4.0" y="27.0" width="14.1" height="15.0" fill="#111111"/><rect x="17.6" y="27.0" width="14.1" height="15.0" fill="#111111"/><rect x="31.2" y="27.0" width="14.1" height="15.0" fill="#111111"/><rect x="44.8" y="27.0" width="14.1" height="15.0" fill="#111111"/><rect x="58.4" y="27.0" width="14.1" height="15.0" fill="#111111"/><rect x="72.0" y="27.0" width="14.1" height="15.0" fill="#111111"/><rect x="85.6" y="27.0" width="14.1" height="15.0" fill="#111111"/><rect x="99.2" y="27.0" width="14.1" height="15.0" fill="#111111"/><rect x="112.8" y="27.0" width="14.1" height="15.0" fill="#111111"/><rect x="126.4" y="27.0" width="14.1" height="15.0" fill="#111111"/><rect x="4.0" y="41.5" width="14.1" height="15.0" fill="#111111"/><rect x="17.6" y="41.5" width="14.1" height="15.0" fill="#111111"/><rect x="31.2" y="41.5" width="14.1" height="15.0" fill="#111111"/><rect x="44.8" y="41.5" width="14.1" height="15.0" fill="#111111"/><rect x="58.4" y="41.5" width="14.1" height="15.0" fill="#111111"/><rect x="72.0" y="41.5" width="14.1" height="15.0" fill="#111111"/><rect x="85.6" y="41.5" width="14.1" height="15.0" fill="#111111"/><rect x="99.2" y="41.5" width="14.1" height="15.0" fill="#111111"/><rect x="112.8" y="41.5" width="14.1" height="15.0" fill="#111111"/><rect x="126.4" y="41.5" width="14.1" height="15.0" fill="#111111"/><rect x="4.0" y="56.0" width="14.1" height="15.0" fill="#111111"/><rect x="17.6" y="56.0" width="14.1" height="15.0" fill="#111111"/><rect x="31.2" y="56.0" width="14.1" height="15.0" fill="#111111"/><rect x="44.8" y="56.0" width="14.1" height="15.0" fill="#111111"/><rect x="58.4" y="56.0" width="14.1" height="15.0" fill="#111111"/><rect x="72.0" y="56.0" width="14.1" height="15.0" fill="#111111"/><rect x="85.6" y="56.0" width="14.1" height="15.0" fill="#111111"/><rect x="99.2" y="56.0" width="14.1" height="15.0" fill="#222222"/><rect x="112.8" y="56.0" width="14.1" height="15.0" fill="#111111"/><rect x="126.4" y="56.0" width="14.1" height="15.0" fill="#111111"/><rect x="4.0" y="70.5" width="14.1" height="15.0" fill="#111111"/><rect x="17.6" y="70.5" width="14.1" height="15.0" fill="#111111"/><rect x="31.2" y="70.5" width="14.1" height="15.0" fill="#111111"/><rect x="44.8" y="70.5" width="14.1" height="15.0" fill="#111111"/><rect x="58.4" y="70.5" width="14.1" height="15.0" fill="#111111"/><rect x="72.0" y="70.5" width="14.1" height="15.0" fill="#111111"/><rect x="85.6" y="70.5" width="14.1" height="15.0" fill="#222222"/><rect x="99.2" y="70.5" width="14.1" height="15.0" fill="#111111"/><rect x="112.8" y="70.5" width="14.1" height="15.0" fill="#111111"/><rect x="126.4" y="70.5" width="14.1" height="15.0" fill="#111111"/><rect x="4.0" y="85.0" width="14.1" height="15.0" fill="#111111"/><rect x="17.6" y="85.0" width="14.1" height="15.0" fill="#111111"/><rect x="31.2" y="85.0" width="14.1" height="15.0" fill="#111111"/><rect x="44.8" y="85.0" width="14.1" height="15.0" fill="#111111"/><rect x="58.4" y="85.0" width="14.1" height="15.0" fill="#333333"/><rect x="72.0" y="85.0" width="14.1" height="15.0" fill="#555555"/><rect x="85.6" y="85.0" width="14.1" height="15.0" fill="#222222"/><rect x="99.2" y="85.0" width="14.1" height="15.0" fill="#333333"/><rect x="112.8" y="85.0" width="14.1" height="15.0" fill="#555555"/><rect x="126.4" y="85.0" width="14.1" height="15.0" fill="#777777"/><rect x="4.0" y="99.5" width="14.1" height="15.0" fill="#111111"/><rect x="17.6" y="99.5" width="14.1" height="15.0" fill="#111111"/><rect x="31.2" y="99.5" width="14.1" height="15.0" fill="#111111"/><rect x="44.8" y="99.5" width="14.1" height="15.0" fill="#111111"/><rect x="58.4" y="99.5" width="14.1" height="15.0" fill="#222222"/><rect x="72.0" y="99.5" width="14.1" height="15.0" fill="#333333"/><rect x="85.6" y="99.5" width="14.1" height="15.0" fill="#222222"/><rect x="99.2" y="99.5" width="14.1" height="15.0" fill="#333333"/><rect x="112.8" y="99.5" width="14.1" height="15.0" fill="#444444"/><rect x="126.4" y="99.5" width="14.1" height="15.0" fill="#666666"/><ellipse cx="132" cy="96" rx="5" ry="4" fill="#999999"/></g></g><use href="#ir"/><use href="#isl"/></g><rect x="538.70" y="345.30" width="146.65" height="113.70" fill="#e3e3e3" stroke="#242424" stroke-width="1.9"/><g transform="translate(538.70,345.30) scale(0.9842,0.9887)"><g clip-path="url(#ck)"><g filter="url(#bq)"><rect x="4.0" y="-2.0" width="14.1" height="15.0" fill="#333333"/><rect x="17.6" y="-2.0" width="14.1" height="15.0" fill="#222222"/><rect x="31.2" y="-2.0" width="14.1" height="15.0" fill="#222222"/><rect x="44.8" y="-2.0" width="14.1" height="15.0" fill="#222222"/><rect x="58.4" y="-2.0" width="14.1" height="15.0" fill="#222222"/><rect x="72.0" y="-2.0" width="14.1" height="15.0" fill="#333333"/><rect x="85.6" y="-2.0" width="14.1" height="15.0" fill="#333333"/><rect x="99.2" y="-2.0" width="14.1" height="15.0" fill="#222222"/><rect x="112.8" y="-2.0" width="14.1" height="15.0" fill="#111111"/><rect x="126.4" y="-2.0" width="14.1" height="15.0" fill="#111111"/><rect x="4.0" y="12.5" width="14.1" height="15.0" fill="#222222"/><rect x="17.6" y="12.5" width="14.1" height="15.0" fill="#222222"/><rect x="31.2" y="12.5" width="14.1" height="15.0" fill="#111111"/><rect x="44.8" y="12.5" width="14.1" height="15.0" fill="#222222"/><rect x="58.4" y="12.5" width="14.1" height="15.0" fill="#333333"/><rect x="72.0" y="12.5" width="14.1" height="15.0" fill="#333333"/><rect x="85.6" y="12.5" width="14.1" height="15.0" fill="#333333"/><rect x="99.2" y="12.5" width="14.1" height="15.0" fill="#111111"/><rect x="112.8" y="12.5" width="14.1" height="15.0" fill="#111111"/><rect x="126.4" y="12.5" width="14.1" height="15.0" fill="#111111"/><rect x="4.0" y="27.0" width="14.1" height="15.0" fill="#111111"/><rect x="17.6" y="27.0" width="14.1" height="15.0" fill="#111111"/><rect x="31.2" y="27.0" width="14.1" height="15.0" fill="#111111"/><rect x="44.8" y="27.0" width="14.1" height="15.0" fill="#333333"/><rect x="58.4" y="27.0" width="14.1" height="15.0" fill="#444444"/><rect x="72.0" y="27.0" width="14.1" height="15.0" fill="#333333"/><rect x="85.6" y="27.0" width="14.1" height="15.0" fill="#222222"/><rect x="99.2" y="27.0" width="14.1" height="15.0" fill="#111111"/><rect x="112.8" y="27.0" width="14.1" height="15.0" fill="#111111"/><rect x="126.4" y="27.0" width="14.1" height="15.0" fill="#111111"/><rect x="4.0" y="41.5" width="14.1" height="15.0" fill="#111111"/><rect x="17.6" y="41.5" width="14.1" height="15.0" fill="#111111"/><rect x="31.2" y="41.5" width="14.1" height="15.0" fill="#111111"/><rect x="44.8" y="41.5" width="14.1" height="15.0" fill="#111111"/><rect x="58.4" y="41.5" width="14.1" height="15.0" fill="#111111"/><rect x="72.0" y="41.5" width="14.1" height="15.0" fill="#111111"/><rect x="85.6" y="41.5" width="14.1" height="15.0" fill="#111111"/><rect x="99.2" y="41.5" width="14.1" height="15.0" fill="#111111"/><rect x="112.8" y="41.5" width="14.1" height="15.0" fill="#111111"/><rect x="126.4" y="41.5" width="14.1" height="15.0" fill="#111111"/><rect x="4.0" y="56.0" width="14.1" height="15.0" fill="#111111"/><rect x="17.6" y="56.0" width="14.1" height="15.0" fill="#111111"/><rect x="31.2" y="56.0" width="14.1" height="15.0" fill="#111111"/><rect x="44.8" y="56.0" width="14.1" height="15.0" fill="#111111"/><rect x="58.4" y="56.0" width="14.1" height="15.0" fill="#111111"/><rect x="72.0" y="56.0" width="14.1" height="15.0" fill="#111111"/><rect x="85.6" y="56.0" width="14.1" height="15.0" fill="#111111"/><rect x="99.2" y="56.0" width="14.1" height="15.0" fill="#111111"/><rect x="112.8" y="56.0" width="14.1" height="15.0" fill="#111111"/><rect x="126.4" y="56.0" width="14.1" height="15.0" fill="#111111"/><rect x="4.0" y="70.5" width="14.1" height="15.0" fill="#111111"/><rect x="17.6" y="70.5" width="14.1" height="15.0" fill="#111111"/><rect x="31.2" y="70.5" width="14.1" height="15.0" fill="#111111"/><rect x="44.8" y="70.5" width="14.1" height="15.0" fill="#111111"/><rect x="58.4" y="70.5" width="14.1" height="15.0" fill="#111111"/><rect x="72.0" y="70.5" width="14.1" height="15.0" fill="#111111"/><rect x="85.6" y="70.5" width="14.1" height="15.0" fill="#111111"/><rect x="99.2" y="70.5" width="14.1" height="15.0" fill="#222222"/><rect x="112.8" y="70.5" width="14.1" height="15.0" fill="#222222"/><rect x="126.4" y="70.5" width="14.1" height="15.0" fill="#222222"/><rect x="4.0" y="85.0" width="14.1" height="15.0" fill="#111111"/><rect x="17.6" y="85.0" width="14.1" height="15.0" fill="#111111"/><rect x="31.2" y="85.0" width="14.1" height="15.0" fill="#111111"/><rect x="44.8" y="85.0" width="14.1" height="15.0" fill="#111111"/><rect x="58.4" y="85.0" width="14.1" height="15.0" fill="#111111"/><rect x="72.0" y="85.0" width="14.1" height="15.0" fill="#111111"/><rect x="85.6" y="85.0" width="14.1" height="15.0" fill="#222222"/><rect x="99.2" y="85.0" width="14.1" height="15.0" fill="#444444"/><rect x="112.8" y="85.0" width="14.1" height="15.0" fill="#666666"/><rect x="126.4" y="85.0" width="14.1" height="15.0" fill="#444444"/><rect x="4.0" y="99.5" width="14.1" height="15.0" fill="#111111"/><rect x="17.6" y="99.5" width="14.1" height="15.0" fill="#111111"/><rect x="31.2" y="99.5" width="14.1" height="15.0" fill="#111111"/><rect x="44.8" y="99.5" width="14.1" height="15.0" fill="#111111"/><rect x="58.4" y="99.5" width="14.1" height="15.0" fill="#111111"/><rect x="72.0" y="99.5" width="14.1" height="15.0" fill="#111111"/><rect x="85.6" y="99.5" width="14.1" height="15.0" fill="#222222"/><rect x="99.2" y="99.5" width="14.1" height="15.0" fill="#333333"/><rect x="112.8" y="99.5" width="14.1" height="15.0" fill="#555555"/><rect x="126.4" y="99.5" width="14.1" height="15.0" fill="#444444"/><ellipse cx="119" cy="99" rx="6" ry="4" fill="#888888"/></g></g><use href="#ir"/><use href="#isl"/></g><rect x="163.30" y="346.00" width="148.55" height="114.90" fill="#e3e3e3" stroke="#242424" stroke-width="1.9"/><g transform="translate(163.30,346.00) scale(0.9970,0.9991)"><g clip-path="url(#ck)"><g filter="url(#bq)"><rect x="4.0" y="-2.0" width="14.1" height="15.0" fill="#222222"/><rect x="17.6" y="-2.0" width="14.1" height="15.0" fill="#111111"/><rect x="31.2" y="-2.0" width="14.1" height="15.0" fill="#111111"/><rect x="44.8" y="-2.0" width="14.1" height="15.0" fill="#111111"/><rect x="58.4" y="-2.0" width="14.1" height="15.0" fill="#111111"/><rect x="72.0" y="-2.0" width="14.1" height="15.0" fill="#111111"/><rect x="85.6" y="-2.0" width="14.1" height="15.0" fill="#222222"/><rect x="99.2" y="-2.0" width="14.1" height="15.0" fill="#111111"/><rect x="112.8" y="-2.0" width="14.1" height="15.0" fill="#111111"/><rect x="126.4" y="-2.0" width="14.1" height="15.0" fill="#111111"/><rect x="4.0" y="12.5" width="14.1" height="15.0" fill="#222222"/><rect x="17.6" y="12.5" width="14.1" height="15.0" fill="#222222"/><rect x="31.2" y="12.5" width="14.1" height="15.0" fill="#222222"/><rect x="44.8" y="12.5" width="14.1" height="15.0" fill="#111111"/><rect x="58.4" y="12.5" width="14.1" height="15.0" fill="#111111"/><rect x="72.0" y="12.5" width="14.1" height="15.0" fill="#111111"/><rect x="85.6" y="12.5" width="14.1" height="15.0" fill="#222222"/><rect x="99.2" y="12.5" width="14.1" height="15.0" fill="#111111"/><rect x="112.8" y="12.5" width="14.1" height="15.0" fill="#111111"/><rect x="126.4" y="12.5" width="14.1" height="15.0" fill="#111111"/><rect x="4.0" y="27.0" width="14.1" height="15.0" fill="#111111"/><rect x="17.6" y="27.0" width="14.1" height="15.0" fill="#111111"/><rect x="31.2" y="27.0" width="14.1" height="15.0" fill="#111111"/><rect x="44.8" y="27.0" width="14.1" height="15.0" fill="#111111"/><rect x="58.4" y="27.0" width="14.1" height="15.0" fill="#222222"/><rect x="72.0" y="27.0" width="14.1" height="15.0" fill="#222222"/><rect x="85.6" y="27.0" width="14.1" height="15.0" fill="#111111"/><rect x="99.2" y="27.0" width="14.1" height="15.0" fill="#111111"/><rect x="112.8" y="27.0" width="14.1" height="15.0" fill="#111111"/><rect x="126.4" y="27.0" width="14.1" height="15.0" fill="#111111"/><rect x="4.0" y="41.5" width="14.1" height="15.0" fill="#111111"/><rect x="17.6" y="41.5" width="14.1" height="15.0" fill="#111111"/><rect x="31.2" y="41.5" width="14.1" height="15.0" fill="#111111"/><rect x="44.8" y="41.5" width="14.1" height="15.0" fill="#111111"/><rect x="58.4" y="41.5" width="14.1" height="15.0" fill="#111111"/><rect x="72.0" y="41.5" width="14.1" height="15.0" fill="#222222"/><rect x="85.6" y="41.5" width="14.1" height="15.0" fill="#111111"/><rect x="99.2" y="41.5" width="14.1" height="15.0" fill="#111111"/><rect x="112.8" y="41.5" width="14.1" height="15.0" fill="#111111"/><rect x="126.4" y="41.5" width="14.1" height="15.0" fill="#111111"/><rect x="4.0" y="56.0" width="14.1" height="15.0" fill="#111111"/><rect x="17.6" y="56.0" width="14.1" height="15.0" fill="#111111"/><rect x="31.2" y="56.0" width="14.1" height="15.0" fill="#111111"/><rect x="44.8" y="56.0" width="14.1" height="15.0" fill="#111111"/><rect x="58.4" y="56.0" width="14.1" height="15.0" fill="#111111"/><rect x="72.0" y="56.0" width="14.1" height="15.0" fill="#111111"/><rect x="85.6" y="56.0" width="14.1" height="15.0" fill="#111111"/><rect x="99.2" y="56.0" width="14.1" height="15.0" fill="#111111"/><rect x="112.8" y="56.0" width="14.1" height="15.0" fill="#111111"/><rect x="126.4" y="56.0" width="14.1" height="15.0" fill="#111111"/><rect x="4.0" y="70.5" width="14.1" height="15.0" fill="#111111"/><rect x="17.6" y="70.5" width="14.1" height="15.0" fill="#111111"/><rect x="31.2" y="70.5" width="14.1" height="15.0" fill="#111111"/><rect x="44.8" y="70.5" width="14.1" height="15.0" fill="#111111"/><rect x="58.4" y="70.5" width="14.1" height="15.0" fill="#111111"/><rect x="72.0" y="70.5" width="14.1" height="15.0" fill="#111111"/><rect x="85.6" y="70.5" width="14.1" height="15.0" fill="#222222"/><rect x="99.2" y="70.5" width="14.1" height="15.0" fill="#111111"/><rect x="112.8" y="70.5" width="14.1" height="15.0" fill="#111111"/><rect x="126.4" y="70.5" width="14.1" height="15.0" fill="#111111"/><rect x="4.0" y="85.0" width="14.1" height="15.0" fill="#111111"/><rect x="17.6" y="85.0" width="14.1" height="15.0" fill="#111111"/><rect x="31.2" y="85.0" width="14.1" height="15.0" fill="#111111"/><rect x="44.8" y="85.0" width="14.1" height="15.0" fill="#111111"/><rect x="58.4" y="85.0" width="14.1" height="15.0" fill="#333333"/><rect x="72.0" y="85.0" width="14.1" height="15.0" fill="#333333"/><rect x="85.6" y="85.0" width="14.1" height="15.0" fill="#333333"/><rect x="99.2" y="85.0" width="14.1" height="15.0" fill="#222222"/><rect x="112.8" y="85.0" width="14.1" height="15.0" fill="#333333"/><rect x="126.4" y="85.0" width="14.1" height="15.0" fill="#222222"/><rect x="4.0" y="99.5" width="14.1" height="15.0" fill="#111111"/><rect x="17.6" y="99.5" width="14.1" height="15.0" fill="#111111"/><rect x="31.2" y="99.5" width="14.1" height="15.0" fill="#111111"/><rect x="44.8" y="99.5" width="14.1" height="15.0" fill="#111111"/><rect x="58.4" y="99.5" width="14.1" height="15.0" fill="#111111"/><rect x="72.0" y="99.5" width="14.1" height="15.0" fill="#111111"/><rect x="85.6" y="99.5" width="14.1" height="15.0" fill="#222222"/><rect x="99.2" y="99.5" width="14.1" height="15.0" fill="#333333"/><rect x="112.8" y="99.5" width="14.1" height="15.0" fill="#333333"/><rect x="126.4" y="99.5" width="14.1" height="15.0" fill="#333333"/><ellipse cx="76" cy="92" rx="8" ry="4" fill="#666666"/></g></g><use href="#ir"/><use href="#isl"/></g><rect x="691.00" y="345.30" width="147.05" height="113.70" fill="#e3e3e3" stroke="#242424" stroke-width="1.9"/><g transform="translate(691.00,345.30) scale(0.9869,0.9887)"><g clip-path="url(#ck)"><g filter="url(#bq)"><rect x="4.0" y="-2.0" width="14.1" height="15.0" fill="#222222"/><rect x="17.6" y="-2.0" width="14.1" height="15.0" fill="#222222"/><rect x="31.2" y="-2.0" width="14.1" height="15.0" fill="#111111"/><rect x="44.8" y="-2.0" width="14.1" height="15.0" fill="#111111"/><rect x="58.4" y="-2.0" width="14.1" height="15.0" fill="#111111"/><rect x="72.0" y="-2.0" width="14.1" height="15.0" fill="#222222"/><rect x="85.6" y="-2.0" width="14.1" height="15.0" fill="#222222"/><rect x="99.2" y="-2.0" width="14.1" height="15.0" fill="#111111"/><rect x="112.8" y="-2.0" width="14.1" height="15.0" fill="#111111"/><rect x="126.4" y="-2.0" width="14.1" height="15.0" fill="#111111"/><rect x="4.0" y="12.5" width="14.1" height="15.0" fill="#222222"/><rect x="17.6" y="12.5" width="14.1" height="15.0" fill="#222222"/><rect x="31.2" y="12.5" width="14.1" height="15.0" fill="#111111"/><rect x="44.8" y="12.5" width="14.1" height="15.0" fill="#111111"/><rect x="58.4" y="12.5" width="14.1" height="15.0" fill="#333333"/><rect x="72.0" y="12.5" width="14.1" height="15.0" fill="#333333"/><rect x="85.6" y="12.5" width="14.1" height="15.0" fill="#222222"/><rect x="99.2" y="12.5" width="14.1" height="15.0" fill="#111111"/><rect x="112.8" y="12.5" width="14.1" height="15.0" fill="#111111"/><rect x="126.4" y="12.5" width="14.1" height="15.0" fill="#111111"/><rect x="4.0" y="27.0" width="14.1" height="15.0" fill="#111111"/><rect x="17.6" y="27.0" width="14.1" height="15.0" fill="#111111"/><rect x="31.2" y="27.0" width="14.1" height="15.0" fill="#111111"/><rect x="44.8" y="27.0" width="14.1" height="15.0" fill="#222222"/><rect x="58.4" y="27.0" width="14.1" height="15.0" fill="#333333"/><rect x="72.0" y="27.0" width="14.1" height="15.0" fill="#222222"/><rect x="85.6" y="27.0" width="14.1" height="15.0" fill="#111111"/><rect x="99.2" y="27.0" width="14.1" height="15.0" fill="#111111"/><rect x="112.8" y="27.0" width="14.1" height="15.0" fill="#111111"/><rect x="126.4" y="27.0" width="14.1" height="15.0" fill="#111111"/><rect x="4.0" y="41.5" width="14.1" height="15.0" fill="#111111"/><rect x="17.6" y="41.5" width="14.1" height="15.0" fill="#111111"/><rect x="31.2" y="41.5" width="14.1" height="15.0" fill="#111111"/><rect x="44.8" y="41.5" width="14.1" height="15.0" fill="#111111"/><rect x="58.4" y="41.5" width="14.1" height="15.0" fill="#111111"/><rect x="72.0" y="41.5" width="14.1" height="15.0" fill="#111111"/><rect x="85.6" y="41.5" width="14.1" height="15.0" fill="#111111"/><rect x="99.2" y="41.5" width="14.1" height="15.0" fill="#111111"/><rect x="112.8" y="41.5" width="14.1" height="15.0" fill="#111111"/><rect x="126.4" y="41.5" width="14.1" height="15.0" fill="#111111"/><rect x="4.0" y="56.0" width="14.1" height="15.0" fill="#111111"/><rect x="17.6" y="56.0" width="14.1" height="15.0" fill="#111111"/><rect x="31.2" y="56.0" width="14.1" height="15.0" fill="#111111"/><rect x="44.8" y="56.0" width="14.1" height="15.0" fill="#111111"/><rect x="58.4" y="56.0" width="14.1" height="15.0" fill="#111111"/><rect x="72.0" y="56.0" width="14.1" height="15.0" fill="#111111"/><rect x="85.6" y="56.0" width="14.1" height="15.0" fill="#111111"/><rect x="99.2" y="56.0" width="14.1" height="15.0" fill="#111111"/><rect x="112.8" y="56.0" width="14.1" height="15.0" fill="#111111"/><rect x="126.4" y="56.0" width="14.1" height="15.0" fill="#111111"/><rect x="4.0" y="70.5" width="14.1" height="15.0" fill="#111111"/><rect x="17.6" y="70.5" width="14.1" height="15.0" fill="#111111"/><rect x="31.2" y="70.5" width="14.1" height="15.0" fill="#111111"/><rect x="44.8" y="70.5" width="14.1" height="15.0" fill="#111111"/><rect x="58.4" y="70.5" width="14.1" height="15.0" fill="#111111"/><rect x="72.0" y="70.5" width="14.1" height="15.0" fill="#111111"/><rect x="85.6" y="70.5" width="14.1" height="15.0" fill="#111111"/><rect x="99.2" y="70.5" width="14.1" height="15.0" fill="#111111"/><rect x="112.8" y="70.5" width="14.1" height="15.0" fill="#222222"/><rect x="126.4" y="70.5" width="14.1" height="15.0" fill="#222222"/><rect x="4.0" y="85.0" width="14.1" height="15.0" fill="#111111"/><rect x="17.6" y="85.0" width="14.1" height="15.0" fill="#111111"/><rect x="31.2" y="85.0" width="14.1" height="15.0" fill="#111111"/><rect x="44.8" y="85.0" width="14.1" height="15.0" fill="#111111"/><rect x="58.4" y="85.0" width="14.1" height="15.0" fill="#111111"/><rect x="72.0" y="85.0" width="14.1" height="15.0" fill="#111111"/><rect x="85.6" y="85.0" width="14.1" height="15.0" fill="#222222"/><rect x="99.2" y="85.0" width="14.1" height="15.0" fill="#333333"/><rect x="112.8" y="85.0" width="14.1" height="15.0" fill="#555555"/><rect x="126.4" y="85.0" width="14.1" height="15.0" fill="#444444"/><rect x="4.0" y="99.5" width="14.1" height="15.0" fill="#111111"/><rect x="17.6" y="99.5" width="14.1" height="15.0" fill="#111111"/><rect x="31.2" y="99.5" width="14.1" height="15.0" fill="#111111"/><rect x="44.8" y="99.5" width="14.1" height="15.0" fill="#111111"/><rect x="58.4" y="99.5" width="14.1" height="15.0" fill="#111111"/><rect x="72.0" y="99.5" width="14.1" height="15.0" fill="#111111"/><rect x="85.6" y="99.5" width="14.1" height="15.0" fill="#222222"/><rect x="99.2" y="99.5" width="14.1" height="15.0" fill="#333333"/><rect x="112.8" y="99.5" width="14.1" height="15.0" fill="#444444"/><rect x="126.4" y="99.5" width="14.1" height="15.0" fill="#333333"/><ellipse cx="120" cy="98" rx="6" ry="4" fill="#666666"/></g></g><use href="#ir"/><use href="#isl"/></g><rect x="317.60" y="346.00" width="148.40" height="114.90" fill="#e3e3e3" stroke="#242424" stroke-width="1.9"/><g transform="translate(317.60,346.00) scale(0.9960,0.9991)"><g clip-path="url(#ck)"><g filter="url(#bq)"><rect x="4.0" y="-2.0" width="14.1" height="15.0" fill="#222222"/><rect x="17.6" y="-2.0" width="14.1" height="15.0" fill="#222222"/><rect x="31.2" y="-2.0" width="14.1" height="15.0" fill="#222222"/><rect x="44.8" y="-2.0" width="14.1" height="15.0" fill="#222222"/><rect x="58.4" y="-2.0" width="14.1" height="15.0" fill="#222222"/><rect x="72.0" y="-2.0" width="14.1" height="15.0" fill="#222222"/><rect x="85.6" y="-2.0" width="14.1" height="15.0" fill="#222222"/><rect x="99.2" y="-2.0" width="14.1" height="15.0" fill="#222222"/><rect x="112.8" y="-2.0" width="14.1" height="15.0" fill="#222222"/><rect x="126.4" y="-2.0" width="14.1" height="15.0" fill="#222222"/><rect x="4.0" y="12.5" width="14.1" height="15.0" fill="#222222"/><rect x="17.6" y="12.5" width="14.1" height="15.0" fill="#222222"/><rect x="31.2" y="12.5" width="14.1" height="15.0" fill="#222222"/><rect x="44.8" y="12.5" width="14.1" height="15.0" fill="#222222"/><rect x="58.4" y="12.5" width="14.1" height="15.0" fill="#222222"/><rect x="72.0" y="12.5" width="14.1" height="15.0" fill="#222222"/><rect x="85.6" y="12.5" width="14.1" height="15.0" fill="#333333"/><rect x="99.2" y="12.5" width="14.1" height="15.0" fill="#222222"/><rect x="112.8" y="12.5" width="14.1" height="15.0" fill="#222222"/><rect x="126.4" y="12.5" width="14.1" height="15.0" fill="#222222"/><rect x="4.0" y="27.0" width="14.1" height="15.0" fill="#222222"/><rect x="17.6" y="27.0" width="14.1" height="15.0" fill="#222222"/><rect x="31.2" y="27.0" width="14.1" height="15.0" fill="#222222"/><rect x="44.8" y="27.0" width="14.1" height="15.0" fill="#222222"/><rect x="58.4" y="27.0" width="14.1" height="15.0" fill="#333333"/><rect x="72.0" y="27.0" width="14.1" height="15.0" fill="#333333"/><rect x="85.6" y="27.0" width="14.1" height="15.0" fill="#222222"/><rect x="99.2" y="27.0" width="14.1" height="15.0" fill="#111111"/><rect x="112.8" y="27.0" width="14.1" height="15.0" fill="#111111"/><rect x="126.4" y="27.0" width="14.1" height="15.0" fill="#111111"/><rect x="4.0" y="41.5" width="14.1" height="15.0" fill="#222222"/><rect x="17.6" y="41.5" width="14.1" height="15.0" fill="#222222"/><rect x="31.2" y="41.5" width="14.1" height="15.0" fill="#222222"/><rect x="44.8" y="41.5" width="14.1" height="15.0" fill="#222222"/><rect x="58.4" y="41.5" width="14.1" height="15.0" fill="#222222"/><rect x="72.0" y="41.5" width="14.1" height="15.0" fill="#111111"/><rect x="85.6" y="41.5" width="14.1" height="15.0" fill="#111111"/><rect x="99.2" y="41.5" width="14.1" height="15.0" fill="#111111"/><rect x="112.8" y="41.5" width="14.1" height="15.0" fill="#111111"/><rect x="126.4" y="41.5" width="14.1" height="15.0" fill="#111111"/><rect x="4.0" y="56.0" width="14.1" height="15.0" fill="#222222"/><rect x="17.6" y="56.0" width="14.1" height="15.0" fill="#222222"/><rect x="31.2" y="56.0" width="14.1" height="15.0" fill="#222222"/><rect x="44.8" y="56.0" width="14.1" height="15.0" fill="#222222"/><rect x="58.4" y="56.0" width="14.1" height="15.0" fill="#111111"/><rect x="72.0" y="56.0" width="14.1" height="15.0" fill="#111111"/><rect x="85.6" y="56.0" width="14.1" height="15.0" fill="#111111"/><rect x="99.2" y="56.0" width="14.1" height="15.0" fill="#111111"/><rect x="112.8" y="56.0" width="14.1" height="15.0" fill="#111111"/><rect x="126.4" y="56.0" width="14.1" height="15.0" fill="#111111"/><rect x="4.0" y="70.5" width="14.1" height="15.0" fill="#222222"/><rect x="17.6" y="70.5" width="14.1" height="15.0" fill="#222222"/><rect x="31.2" y="70.5" width="14.1" height="15.0" fill="#222222"/><rect x="44.8" y="70.5" width="14.1" height="15.0" fill="#333333"/><rect x="58.4" y="70.5" width="14.1" height="15.0" fill="#222222"/><rect x="72.0" y="70.5" width="14.1" height="15.0" fill="#222222"/><rect x="85.6" y="70.5" width="14.1" height="15.0" fill="#222222"/><rect x="99.2" y="70.5" width="14.1" height="15.0" fill="#222222"/><rect x="112.8" y="70.5" width="14.1" height="15.0" fill="#111111"/><rect x="126.4" y="70.5" width="14.1" height="15.0" fill="#111111"/><rect x="4.0" y="85.0" width="14.1" height="15.0" fill="#222222"/><rect x="17.6" y="85.0" width="14.1" height="15.0" fill="#222222"/><rect x="31.2" y="85.0" width="14.1" height="15.0" fill="#222222"/><rect x="44.8" y="85.0" width="14.1" height="15.0" fill="#222222"/><rect x="58.4" y="85.0" width="14.1" height="15.0" fill="#222222"/><rect x="72.0" y="85.0" width="14.1" height="15.0" fill="#333333"/><rect x="85.6" y="85.0" width="14.1" height="15.0" fill="#222222"/><rect x="99.2" y="85.0" width="14.1" height="15.0" fill="#333333"/><rect x="112.8" y="85.0" width="14.1" height="15.0" fill="#222222"/><rect x="126.4" y="85.0" width="14.1" height="15.0" fill="#333333"/><rect x="4.0" y="99.5" width="14.1" height="15.0" fill="#222222"/><rect x="17.6" y="99.5" width="14.1" height="15.0" fill="#222222"/><rect x="31.2" y="99.5" width="14.1" height="15.0" fill="#222222"/><rect x="44.8" y="99.5" width="14.1" height="15.0" fill="#222222"/><rect x="58.4" y="99.5" width="14.1" height="15.0" fill="#222222"/><rect x="72.0" y="99.5" width="14.1" height="15.0" fill="#222222"/><rect x="85.6" y="99.5" width="14.1" height="15.0" fill="#222222"/><rect x="99.2" y="99.5" width="14.1" height="15.0" fill="#333333"/><rect x="112.8" y="99.5" width="14.1" height="15.0" fill="#333333"/><rect x="126.4" y="99.5" width="14.1" height="15.0" fill="#333333"/><ellipse cx="103" cy="101" rx="3" ry="3" fill="#666666"/><ellipse cx="125" cy="99" rx="4" ry="3" fill="#555555"/></g></g><use href="#ir"/><use href="#isl"/></g><rect x="844.00" y="345.30" width="146.70" height="113.70" fill="#e3e3e3" stroke="#242424" stroke-width="1.9"/><g transform="translate(844.00,345.30) scale(0.9846,0.9887)"><g clip-path="url(#ck)"><g filter="url(#bq)"><rect x="4.0" y="-2.0" width="14.1" height="15.0" fill="#333333"/><rect x="17.6" y="-2.0" width="14.1" height="15.0" fill="#333333"/><rect x="31.2" y="-2.0" width="14.1" height="15.0" fill="#222222"/><rect x="44.8" y="-2.0" width="14.1" height="15.0" fill="#222222"/><rect x="58.4" y="-2.0" width="14.1" height="15.0" fill="#222222"/><rect x="72.0" y="-2.0" width="14.1" height="15.0" fill="#333333"/><rect x="85.6" y="-2.0" width="14.1" height="15.0" fill="#333333"/><rect x="99.2" y="-2.0" width="14.1" height="15.0" fill="#222222"/><rect x="112.8" y="-2.0" width="14.1" height="15.0" fill="#111111"/><rect x="126.4" y="-2.0" width="14.1" height="15.0" fill="#111111"/><rect x="4.0" y="12.5" width="14.1" height="15.0" fill="#222222"/><rect x="17.6" y="12.5" width="14.1" height="15.0" fill="#333333"/><rect x="31.2" y="12.5" width="14.1" height="15.0" fill="#222222"/><rect x="44.8" y="12.5" width="14.1" height="15.0" fill="#222222"/><rect x="58.4" y="12.5" width="14.1" height="15.0" fill="#333333"/><rect x="72.0" y="12.5" width="14.1" height="15.0" fill="#444444"/><rect x="85.6" y="12.5" width="14.1" height="15.0" fill="#333333"/><rect x="99.2" y="12.5" width="14.1" height="15.0" fill="#222222"/><rect x="112.8" y="12.5" width="14.1" height="15.0" fill="#111111"/><rect x="126.4" y="12.5" width="14.1" height="15.0" fill="#111111"/><rect x="4.0" y="27.0" width="14.1" height="15.0" fill="#111111"/><rect x="17.6" y="27.0" width="14.1" height="15.0" fill="#111111"/><rect x="31.2" y="27.0" width="14.1" height="15.0" fill="#111111"/><rect x="44.8" y="27.0" width="14.1" height="15.0" fill="#222222"/><rect x="58.4" y="27.0" width="14.1" height="15.0" fill="#333333"/><rect x="72.0" y="27.0" width="14.1" height="15.0" fill="#444444"/><rect x="85.6" y="27.0" width="14.1" height="15.0" fill="#222222"/><rect x="99.2" y="27.0" width="14.1" height="15.0" fill="#111111"/><rect x="112.8" y="27.0" width="14.1" height="15.0" fill="#111111"/><rect x="126.4" y="27.0" width="14.1" height="15.0" fill="#111111"/><rect x="4.0" y="41.5" width="14.1" height="15.0" fill="#111111"/><rect x="17.6" y="41.5" width="14.1" height="15.0" fill="#111111"/><rect x="31.2" y="41.5" width="14.1" height="15.0" fill="#111111"/><rect x="44.8" y="41.5" width="14.1" height="15.0" fill="#111111"/><rect x="58.4" y="41.5" width="14.1" height="15.0" fill="#111111"/><rect x="72.0" y="41.5" width="14.1" height="15.0" fill="#111111"/><rect x="85.6" y="41.5" width="14.1" height="15.0" fill="#111111"/><rect x="99.2" y="41.5" width="14.1" height="15.0" fill="#111111"/><rect x="112.8" y="41.5" width="14.1" height="15.0" fill="#111111"/><rect x="126.4" y="41.5" width="14.1" height="15.0" fill="#111111"/><rect x="4.0" y="56.0" width="14.1" height="15.0" fill="#111111"/><rect x="17.6" y="56.0" width="14.1" height="15.0" fill="#111111"/><rect x="31.2" y="56.0" width="14.1" height="15.0" fill="#111111"/><rect x="44.8" y="56.0" width="14.1" height="15.0" fill="#111111"/><rect x="58.4" y="56.0" width="14.1" height="15.0" fill="#111111"/><rect x="72.0" y="56.0" width="14.1" height="15.0" fill="#111111"/><rect x="85.6" y="56.0" width="14.1" height="15.0" fill="#111111"/><rect x="99.2" y="56.0" width="14.1" height="15.0" fill="#111111"/><rect x="112.8" y="56.0" width="14.1" height="15.0" fill="#111111"/><rect x="126.4" y="56.0" width="14.1" height="15.0" fill="#111111"/><rect x="4.0" y="70.5" width="14.1" height="15.0" fill="#111111"/><rect x="17.6" y="70.5" width="14.1" height="15.0" fill="#111111"/><rect x="31.2" y="70.5" width="14.1" height="15.0" fill="#111111"/><rect x="44.8" y="70.5" width="14.1" height="15.0" fill="#111111"/><rect x="58.4" y="70.5" width="14.1" height="15.0" fill="#111111"/><rect x="72.0" y="70.5" width="14.1" height="15.0" fill="#111111"/><rect x="85.6" y="70.5" width="14.1" height="15.0" fill="#111111"/><rect x="99.2" y="70.5" width="14.1" height="15.0" fill="#111111"/><rect x="112.8" y="70.5" width="14.1" height="15.0" fill="#111111"/><rect x="126.4" y="70.5" width="14.1" height="15.0" fill="#111111"/><rect x="4.0" y="85.0" width="14.1" height="15.0" fill="#111111"/><rect x="17.6" y="85.0" width="14.1" height="15.0" fill="#111111"/><rect x="31.2" y="85.0" width="14.1" height="15.0" fill="#111111"/><rect x="44.8" y="85.0" width="14.1" height="15.0" fill="#111111"/><rect x="58.4" y="85.0" width="14.1" height="15.0" fill="#111111"/><rect x="72.0" y="85.0" width="14.1" height="15.0" fill="#222222"/><rect x="85.6" y="85.0" width="14.1" height="15.0" fill="#222222"/><rect x="99.2" y="85.0" width="14.1" height="15.0" fill="#222222"/><rect x="112.8" y="85.0" width="14.1" height="15.0" fill="#222222"/><rect x="126.4" y="85.0" width="14.1" height="15.0" fill="#222222"/><rect x="4.0" y="99.5" width="14.1" height="15.0" fill="#111111"/><rect x="17.6" y="99.5" width="14.1" height="15.0" fill="#111111"/><rect x="31.2" y="99.5" width="14.1" height="15.0" fill="#111111"/><rect x="44.8" y="99.5" width="14.1" height="15.0" fill="#111111"/><rect x="58.4" y="99.5" width="14.1" height="15.0" fill="#111111"/><rect x="72.0" y="99.5" width="14.1" height="15.0" fill="#222222"/><rect x="85.6" y="99.5" width="14.1" height="15.0" fill="#222222"/><rect x="99.2" y="99.5" width="14.1" height="15.0" fill="#222222"/><rect x="112.8" y="99.5" width="14.1" height="15.0" fill="#222222"/><rect x="126.4" y="99.5" width="14.1" height="15.0" fill="#222222"/><ellipse cx="103" cy="100" rx="3" ry="3" fill="#555555"/></g></g><use href="#ir"/><use href="#isl"/></g><rect x="9.45" y="486.30" width="148.20" height="115.20" fill="#e3e3e3" stroke="#242424" stroke-width="1.9"/><g transform="translate(9.45,486.30) scale(0.9946,1.0017)"><g clip-path="url(#ck)"><g filter="url(#bl)"><rect x="4.0" y="-2.0" width="14.1" height="15.0" fill="#666666"/><rect x="17.6" y="-2.0" width="14.1" height="15.0" fill="#666666"/><rect x="31.2" y="-2.0" width="14.1" height="15.0" fill="#555555"/><rect x="44.8" y="-2.0" width="14.1" height="15.0" fill="#555555"/><rect x="58.4" y="-2.0" width="14.1" height="15.0" fill="#666666"/><rect x="72.0" y="-2.0" width="14.1" height="15.0" fill="#444444"/><rect x="85.6" y="-2.0" width="14.1" height="15.0" fill="#333333"/><rect x="99.2" y="-2.0" width="14.1" height="15.0" fill="#333333"/><rect x="112.8" y="-2.0" width="14.1" height="15.0" fill="#333333"/><rect x="126.4" y="-2.0" width="14.1" height="15.0" fill="#333333"/><rect x="4.0" y="12.5" width="14.1" height="15.0" fill="#666666"/><rect x="17.6" y="12.5" width="14.1" height="15.0" fill="#555555"/><rect x="31.2" y="12.5" width="14.1" height="15.0" fill="#444444"/><rect x="44.8" y="12.5" width="14.1" height="15.0" fill="#555555"/><rect x="58.4" y="12.5" width="14.1" height="15.0" fill="#666666"/><rect x="72.0" y="12.5" width="14.1" height="15.0" fill="#444444"/><rect x="85.6" y="12.5" width="14.1" height="15.0" fill="#333333"/><rect x="99.2" y="12.5" width="14.1" height="15.0" fill="#333333"/><rect x="112.8" y="12.5" width="14.1" height="15.0" fill="#333333"/><rect x="126.4" y="12.5" width="14.1" height="15.0" fill="#333333"/><rect x="4.0" y="27.0" width="14.1" height="15.0" fill="#555555"/><rect x="17.6" y="27.0" width="14.1" height="15.0" fill="#555555"/><rect x="31.2" y="27.0" width="14.1" height="15.0" fill="#444444"/><rect x="44.8" y="27.0" width="14.1" height="15.0" fill="#555555"/><rect x="58.4" y="27.0" width="14.1" height="15.0" fill="#666666"/><rect x="72.0" y="27.0" width="14.1" height="15.0" fill="#555555"/><rect x="85.6" y="27.0" width="14.1" height="15.0" fill="#333333"/><rect x="99.2" y="27.0" width="14.1" height="15.0" fill="#333333"/><rect x="112.8" y="27.0" width="14.1" height="15.0" fill="#222222"/><rect x="126.4" y="27.0" width="14.1" height="15.0" fill="#222222"/><rect x="4.0" y="41.5" width="14.1" height="15.0" fill="#666666"/><rect x="17.6" y="41.5" width="14.1" height="15.0" fill="#666666"/><rect x="31.2" y="41.5" width="14.1" height="15.0" fill="#333333"/><rect x="44.8" y="41.5" width="14.1" height="15.0" fill="#333333"/><rect x="58.4" y="41.5" width="14.1" height="15.0" fill="#333333"/><rect x="72.0" y="41.5" width="14.1" height="15.0" fill="#444444"/><rect x="85.6" y="41.5" width="14.1" height="15.0" fill="#222222"/><rect x="99.2" y="41.5" width="14.1" height="15.0" fill="#222222"/><rect x="112.8" y="41.5" width="14.1" height="15.0" fill="#222222"/><rect x="126.4" y="41.5" width="14.1" height="15.0" fill="#222222"/><rect x="4.0" y="56.0" width="14.1" height="15.0" fill="#333333"/><rect x="17.6" y="56.0" width="14.1" height="15.0" fill="#333333"/><rect x="31.2" y="56.0" width="14.1" height="15.0" fill="#333333"/><rect x="44.8" y="56.0" width="14.1" height="15.0" fill="#333333"/><rect x="58.4" y="56.0" width="14.1" height="15.0" fill="#333333"/><rect x="72.0" y="56.0" width="14.1" height="15.0" fill="#333333"/><rect x="85.6" y="56.0" width="14.1" height="15.0" fill="#222222"/><rect x="99.2" y="56.0" width="14.1" height="15.0" fill="#222222"/><rect x="112.8" y="56.0" width="14.1" height="15.0" fill="#222222"/><rect x="126.4" y="56.0" width="14.1" height="15.0" fill="#222222"/><rect x="4.0" y="70.5" width="14.1" height="15.0" fill="#333333"/><rect x="17.6" y="70.5" width="14.1" height="15.0" fill="#333333"/><rect x="31.2" y="70.5" width="14.1" height="15.0" fill="#333333"/><rect x="44.8" y="70.5" width="14.1" height="15.0" fill="#222222"/><rect x="58.4" y="70.5" width="14.1" height="15.0" fill="#333333"/><rect x="72.0" y="70.5" width="14.1" height="15.0" fill="#333333"/><rect x="85.6" y="70.5" width="14.1" height="15.0" fill="#222222"/><rect x="99.2" y="70.5" width="14.1" height="15.0" fill="#222222"/><rect x="112.8" y="70.5" width="14.1" height="15.0" fill="#222222"/><rect x="126.4" y="70.5" width="14.1" height="15.0" fill="#222222"/><rect x="4.0" y="85.0" width="14.1" height="15.0" fill="#222222"/><rect x="17.6" y="85.0" width="14.1" height="15.0" fill="#222222"/><rect x="31.2" y="85.0" width="14.1" height="15.0" fill="#222222"/><rect x="44.8" y="85.0" width="14.1" height="15.0" fill="#222222"/><rect x="58.4" y="85.0" width="14.1" height="15.0" fill="#222222"/><rect x="72.0" y="85.0" width="14.1" height="15.0" fill="#222222"/><rect x="85.6" y="85.0" width="14.1" height="15.0" fill="#222222"/><rect x="99.2" y="85.0" width="14.1" height="15.0" fill="#222222"/><rect x="112.8" y="85.0" width="14.1" height="15.0" fill="#222222"/><rect x="126.4" y="85.0" width="14.1" height="15.0" fill="#222222"/><rect x="4.0" y="99.5" width="14.1" height="15.0" fill="#222222"/><rect x="17.6" y="99.5" width="14.1" height="15.0" fill="#222222"/><rect x="31.2" y="99.5" width="14.1" height="15.0" fill="#222222"/><rect x="44.8" y="99.5" width="14.1" height="15.0" fill="#222222"/><rect x="58.4" y="99.5" width="14.1" height="15.0" fill="#222222"/><rect x="72.0" y="99.5" width="14.1" height="15.0" fill="#222222"/><rect x="85.6" y="99.5" width="14.1" height="15.0" fill="#222222"/><rect x="99.2" y="99.5" width="14.1" height="15.0" fill="#333333"/><rect x="112.8" y="99.5" width="14.1" height="15.0" fill="#222222"/><rect x="126.4" y="99.5" width="14.1" height="15.0" fill="#222222"/></g></g><use href="#ir"/><use href="#isl"/></g><rect x="538.70" y="484.80" width="146.65" height="114.10" fill="#e3e3e3" stroke="#242424" stroke-width="1.9"/><g transform="translate(538.70,484.80) scale(0.9842,0.9922)"><g clip-path="url(#ck)"><g filter="url(#bl)"><rect x="4.0" y="-2.0" width="14.1" height="15.0" fill="#444444"/><rect x="17.6" y="-2.0" width="14.1" height="15.0" fill="#555555"/><rect x="31.2" y="-2.0" width="14.1" height="15.0" fill="#666666"/><rect x="44.8" y="-2.0" width="14.1" height="15.0" fill="#666666"/><rect x="58.4" y="-2.0" width="14.1" height="15.0" fill="#555555"/><rect x="72.0" y="-2.0" width="14.1" height="15.0" fill="#444444"/><rect x="85.6" y="-2.0" width="14.1" height="15.0" fill="#333333"/><rect x="99.2" y="-2.0" width="14.1" height="15.0" fill="#222222"/><rect x="112.8" y="-2.0" width="14.1" height="15.0" fill="#222222"/><rect x="126.4" y="-2.0" width="14.1" height="15.0" fill="#222222"/><rect x="4.0" y="12.5" width="14.1" height="15.0" fill="#444444"/><rect x="17.6" y="12.5" width="14.1" height="15.0" fill="#555555"/><rect x="31.2" y="12.5" width="14.1" height="15.0" fill="#666666"/><rect x="44.8" y="12.5" width="14.1" height="15.0" fill="#666666"/><rect x="58.4" y="12.5" width="14.1" height="15.0" fill="#555555"/><rect x="72.0" y="12.5" width="14.1" height="15.0" fill="#444444"/><rect x="85.6" y="12.5" width="14.1" height="15.0" fill="#333333"/><rect x="99.2" y="12.5" width="14.1" height="15.0" fill="#222222"/><rect x="112.8" y="12.5" width="14.1" height="15.0" fill="#222222"/><rect x="126.4" y="12.5" width="14.1" height="15.0" fill="#222222"/><rect x="4.0" y="27.0" width="14.1" height="15.0" fill="#444444"/><rect x="17.6" y="27.0" width="14.1" height="15.0" fill="#555555"/><rect x="31.2" y="27.0" width="14.1" height="15.0" fill="#444444"/><rect x="44.8" y="27.0" width="14.1" height="15.0" fill="#555555"/><rect x="58.4" y="27.0" width="14.1" height="15.0" fill="#555555"/><rect x="72.0" y="27.0" width="14.1" height="15.0" fill="#444444"/><rect x="85.6" y="27.0" width="14.1" height="15.0" fill="#222222"/><rect x="99.2" y="27.0" width="14.1" height="15.0" fill="#222222"/><rect x="112.8" y="27.0" width="14.1" height="15.0" fill="#222222"/><rect x="126.4" y="27.0" width="14.1" height="15.0" fill="#222222"/><rect x="4.0" y="41.5" width="14.1" height="15.0" fill="#555555"/><rect x="17.6" y="41.5" width="14.1" height="15.0" fill="#555555"/><rect x="31.2" y="41.5" width="14.1" height="15.0" fill="#444444"/><rect x="44.8" y="41.5" width="14.1" height="15.0" fill="#222222"/><rect x="58.4" y="41.5" width="14.1" height="15.0" fill="#222222"/><rect x="72.0" y="41.5" width="14.1" height="15.0" fill="#222222"/><rect x="85.6" y="41.5" width="14.1" height="15.0" fill="#222222"/><rect x="99.2" y="41.5" width="14.1" height="15.0" fill="#222222"/><rect x="112.8" y="41.5" width="14.1" height="15.0" fill="#222222"/><rect x="126.4" y="41.5" width="14.1" height="15.0" fill="#222222"/><rect x="4.0" y="56.0" width="14.1" height="15.0" fill="#333333"/><rect x="17.6" y="56.0" width="14.1" height="15.0" fill="#333333"/><rect x="31.2" y="56.0" width="14.1" height="15.0" fill="#333333"/><rect x="44.8" y="56.0" width="14.1" height="15.0" fill="#222222"/><rect x="58.4" y="56.0" width="14.1" height="15.0" fill="#111111"/><rect x="72.0" y="56.0" width="14.1" height="15.0" fill="#111111"/><rect x="85.6" y="56.0" width="14.1" height="15.0" fill="#222222"/><rect x="99.2" y="56.0" width="14.1" height="15.0" fill="#222222"/><rect x="112.8" y="56.0" width="14.1" height="15.0" fill="#222222"/><rect x="126.4" y="56.0" width="14.1" height="15.0" fill="#222222"/><rect x="4.0" y="70.5" width="14.1" height="15.0" fill="#222222"/><rect x="17.6" y="70.5" width="14.1" height="15.0" fill="#222222"/><rect x="31.2" y="70.5" width="14.1" height="15.0" fill="#222222"/><rect x="44.8" y="70.5" width="14.1" height="15.0" fill="#222222"/><rect x="58.4" y="70.5" width="14.1" height="15.0" fill="#111111"/><rect x="72.0" y="70.5" width="14.1" height="15.0" fill="#111111"/><rect x="85.6" y="70.5" width="14.1" height="15.0" fill="#222222"/><rect x="99.2" y="70.5" width="14.1" height="15.0" fill="#222222"/><rect x="112.8" y="70.5" width="14.1" height="15.0" fill="#222222"/><rect x="126.4" y="70.5" width="14.1" height="15.0" fill="#222222"/><rect x="4.0" y="85.0" width="14.1" height="15.0" fill="#222222"/><rect x="17.6" y="85.0" width="14.1" height="15.0" fill="#222222"/><rect x="31.2" y="85.0" width="14.1" height="15.0" fill="#222222"/><rect x="44.8" y="85.0" width="14.1" height="15.0" fill="#222222"/><rect x="58.4" y="85.0" width="14.1" height="15.0" fill="#222222"/><rect x="72.0" y="85.0" width="14.1" height="15.0" fill="#222222"/><rect x="85.6" y="85.0" width="14.1" height="15.0" fill="#444444"/><rect x="99.2" y="85.0" width="14.1" height="15.0" fill="#333333"/><rect x="112.8" y="85.0" width="14.1" height="15.0" fill="#222222"/><rect x="126.4" y="85.0" width="14.1" height="15.0" fill="#333333"/><rect x="4.0" y="99.5" width="14.1" height="15.0" fill="#222222"/><rect x="17.6" y="99.5" width="14.1" height="15.0" fill="#222222"/><rect x="31.2" y="99.5" width="14.1" height="15.0" fill="#222222"/><rect x="44.8" y="99.5" width="14.1" height="15.0" fill="#222222"/><rect x="58.4" y="99.5" width="14.1" height="15.0" fill="#222222"/><rect x="72.0" y="99.5" width="14.1" height="15.0" fill="#222222"/><rect x="85.6" y="99.5" width="14.1" height="15.0" fill="#333333"/><rect x="99.2" y="99.5" width="14.1" height="15.0" fill="#333333"/><rect x="112.8" y="99.5" width="14.1" height="15.0" fill="#333333"/><rect x="126.4" y="99.5" width="14.1" height="15.0" fill="#333333"/></g></g><use href="#ir"/><use href="#isl"/></g><rect x="163.30" y="486.30" width="148.55" height="115.20" fill="#e3e3e3" stroke="#242424" stroke-width="1.9"/><g transform="translate(163.30,486.30) scale(0.9970,1.0017)"><g clip-path="url(#ck)"><g filter="url(#bl)"><rect x="4.0" y="-2.0" width="14.1" height="15.0" fill="#666666"/><rect x="17.6" y="-2.0" width="14.1" height="15.0" fill="#666666"/><rect x="31.2" y="-2.0" width="14.1" height="15.0" fill="#555555"/><rect x="44.8" y="-2.0" width="14.1" height="15.0" fill="#555555"/><rect x="58.4" y="-2.0" width="14.1" height="15.0" fill="#555555"/><rect x="72.0" y="-2.0" width="14.1" height="15.0" fill="#555555"/><rect x="85.6" y="-2.0" width="14.1" height="15.0" fill="#555555"/><rect x="99.2" y="-2.0" width="14.1" height="15.0" fill="#555555"/><rect x="112.8" y="-2.0" width="14.1" height="15.0" fill="#555555"/><rect x="126.4" y="-2.0" width="14.1" height="15.0" fill="#555555"/><rect x="4.0" y="12.5" width="14.1" height="15.0" fill="#666666"/><rect x="17.6" y="12.5" width="14.1" height="15.0" fill="#666666"/><rect x="31.2" y="12.5" width="14.1" height="15.0" fill="#555555"/><rect x="44.8" y="12.5" width="14.1" height="15.0" fill="#555555"/><rect x="58.4" y="12.5" width="14.1" height="15.0" fill="#555555"/><rect x="72.0" y="12.5" width="14.1" height="15.0" fill="#555555"/><rect x="85.6" y="12.5" width="14.1" height="15.0" fill="#555555"/><rect x="99.2" y="12.5" width="14.1" height="15.0" fill="#555555"/><rect x="112.8" y="12.5" width="14.1" height="15.0" fill="#555555"/><rect x="126.4" y="12.5" width="14.1" height="15.0" fill="#555555"/><rect x="4.0" y="27.0" width="14.1" height="15.0" fill="#777777"/><rect x="17.6" y="27.0" width="14.1" height="15.0" fill="#888888"/><rect x="31.2" y="27.0" width="14.1" height="15.0" fill="#555555"/><rect x="44.8" y="27.0" width="14.1" height="15.0" fill="#444444"/><rect x="58.4" y="27.0" width="14.1" height="15.0" fill="#555555"/><rect x="72.0" y="27.0" width="14.1" height="15.0" fill="#555555"/><rect x="85.6" y="27.0" width="14.1" height="15.0" fill="#444444"/><rect x="99.2" y="27.0" width="14.1" height="15.0" fill="#444444"/><rect x="112.8" y="27.0" width="14.1" height="15.0" fill="#555555"/><rect x="126.4" y="27.0" width="14.1" height="15.0" fill="#555555"/><rect x="4.0" y="41.5" width="14.1" height="15.0" fill="#777777"/><rect x="17.6" y="41.5" width="14.1" height="15.0" fill="#777777"/><rect x="31.2" y="41.5" width="14.1" height="15.0" fill="#666666"/><rect x="44.8" y="41.5" width="14.1" height="15.0" fill="#555555"/><rect x="58.4" y="41.5" width="14.1" height="15.0" fill="#555555"/><rect x="72.0" y="41.5" width="14.1" height="15.0" fill="#333333"/><rect x="85.6" y="41.5" width="14.1" height="15.0" fill="#333333"/><rect x="99.2" y="41.5" width="14.1" height="15.0" fill="#333333"/><rect x="112.8" y="41.5" width="14.1" height="15.0" fill="#444444"/><rect x="126.4" y="41.5" width="14.1" height="15.0" fill="#444444"/><rect x="4.0" y="56.0" width="14.1" height="15.0" fill="#999999"/><rect x="17.6" y="56.0" width="14.1" height="15.0" fill="#999999"/><rect x="31.2" y="56.0" width="14.1" height="15.0" fill="#aaaaaa"/><rect x="44.8" y="56.0" width="14.1" height="15.0" fill="#666666"/><rect x="58.4" y="56.0" width="14.1" height="15.0" fill="#555555"/><rect x="72.0" y="56.0" width="14.1" height="15.0" fill="#444444"/><rect x="85.6" y="56.0" width="14.1" height="15.0" fill="#333333"/><rect x="99.2" y="56.0" width="14.1" height="15.0" fill="#333333"/><rect x="112.8" y="56.0" width="14.1" height="15.0" fill="#333333"/><rect x="126.4" y="56.0" width="14.1" height="15.0" fill="#333333"/><rect x="4.0" y="70.5" width="14.1" height="15.0" fill="#888888"/><rect x="17.6" y="70.5" width="14.1" height="15.0" fill="#888888"/><rect x="31.2" y="70.5" width="14.1" height="15.0" fill="#888888"/><rect x="44.8" y="70.5" width="14.1" height="15.0" fill="#666666"/><rect x="58.4" y="70.5" width="14.1" height="15.0" fill="#444444"/><rect x="72.0" y="70.5" width="14.1" height="15.0" fill="#555555"/><rect x="85.6" y="70.5" width="14.1" height="15.0" fill="#444444"/><rect x="99.2" y="70.5" width="14.1" height="15.0" fill="#444444"/><rect x="112.8" y="70.5" width="14.1" height="15.0" fill="#333333"/><rect x="126.4" y="70.5" width="14.1" height="15.0" fill="#333333"/><rect x="4.0" y="85.0" width="14.1" height="15.0" fill="#666666"/><rect x="17.6" y="85.0" width="14.1" height="15.0" fill="#666666"/><rect x="31.2" y="85.0" width="14.1" height="15.0" fill="#666666"/><rect x="44.8" y="85.0" width="14.1" height="15.0" fill="#666666"/><rect x="58.4" y="85.0" width="14.1" height="15.0" fill="#555555"/><rect x="72.0" y="85.0" width="14.1" height="15.0" fill="#444444"/><rect x="85.6" y="85.0" width="14.1" height="15.0" fill="#444444"/><rect x="99.2" y="85.0" width="14.1" height="15.0" fill="#444444"/><rect x="112.8" y="85.0" width="14.1" height="15.0" fill="#444444"/><rect x="126.4" y="85.0" width="14.1" height="15.0" fill="#333333"/><rect x="4.0" y="99.5" width="14.1" height="15.0" fill="#555555"/><rect x="17.6" y="99.5" width="14.1" height="15.0" fill="#555555"/><rect x="31.2" y="99.5" width="14.1" height="15.0" fill="#555555"/><rect x="44.8" y="99.5" width="14.1" height="15.0" fill="#555555"/><rect x="58.4" y="99.5" width="14.1" height="15.0" fill="#555555"/><rect x="72.0" y="99.5" width="14.1" height="15.0" fill="#555555"/><rect x="85.6" y="99.5" width="14.1" height="15.0" fill="#555555"/><rect x="99.2" y="99.5" width="14.1" height="15.0" fill="#555555"/><rect x="112.8" y="99.5" width="14.1" height="15.0" fill="#444444"/><rect x="126.4" y="99.5" width="14.1" height="15.0" fill="#444444"/><ellipse cx="30" cy="38" rx="4" ry="6" fill="#999999"/><ellipse cx="39" cy="64" rx="5" ry="5" fill="#aaaaaa"/></g></g><use href="#ir"/><use href="#isl"/></g><rect x="691.00" y="484.80" width="147.05" height="114.10" fill="#e3e3e3" stroke="#242424" stroke-width="1.9"/><g transform="translate(691.00,484.80) scale(0.9869,0.9922)"><g clip-path="url(#ck)"><g filter="url(#bl)"><rect x="4.0" y="-2.0" width="14.1" height="15.0" fill="#555555"/><rect x="17.6" y="-2.0" width="14.1" height="15.0" fill="#666666"/><rect x="31.2" y="-2.0" width="14.1" height="15.0" fill="#777777"/><rect x="44.8" y="-2.0" width="14.1" height="15.0" fill="#777777"/><rect x="58.4" y="-2.0" width="14.1" height="15.0" fill="#666666"/><rect x="72.0" y="-2.0" width="14.1" height="15.0" fill="#666666"/><rect x="85.6" y="-2.0" width="14.1" height="15.0" fill="#666666"/><rect x="99.2" y="-2.0" width="14.1" height="15.0" fill="#555555"/><rect x="112.8" y="-2.0" width="14.1" height="15.0" fill="#444444"/><rect x="126.4" y="-2.0" width="14.1" height="15.0" fill="#444444"/><rect x="4.0" y="12.5" width="14.1" height="15.0" fill="#777777"/><rect x="17.6" y="12.5" width="14.1" height="15.0" fill="#888888"/><rect x="31.2" y="12.5" width="14.1" height="15.0" fill="#888888"/><rect x="44.8" y="12.5" width="14.1" height="15.0" fill="#777777"/><rect x="58.4" y="12.5" width="14.1" height="15.0" fill="#666666"/><rect x="72.0" y="12.5" width="14.1" height="15.0" fill="#666666"/><rect x="85.6" y="12.5" width="14.1" height="15.0" fill="#666666"/><rect x="99.2" y="12.5" width="14.1" height="15.0" fill="#555555"/><rect x="112.8" y="12.5" width="14.1" height="15.0" fill="#444444"/><rect x="126.4" y="12.5" width="14.1" height="15.0" fill="#444444"/><rect x="4.0" y="27.0" width="14.1" height="15.0" fill="#888888"/><rect x="17.6" y="27.0" width="14.1" height="15.0" fill="#999999"/><rect x="31.2" y="27.0" width="14.1" height="15.0" fill="#999999"/><rect x="44.8" y="27.0" width="14.1" height="15.0" fill="#666666"/><rect x="58.4" y="27.0" width="14.1" height="15.0" fill="#666666"/><rect x="72.0" y="27.0" width="14.1" height="15.0" fill="#666666"/><rect x="85.6" y="27.0" width="14.1" height="15.0" fill="#444444"/><rect x="99.2" y="27.0" width="14.1" height="15.0" fill="#333333"/><rect x="112.8" y="27.0" width="14.1" height="15.0" fill="#333333"/><rect x="126.4" y="27.0" width="14.1" height="15.0" fill="#333333"/><rect x="4.0" y="41.5" width="14.1" height="15.0" fill="#aaaaaa"/><rect x="17.6" y="41.5" width="14.1" height="15.0" fill="#bbbbbb"/><rect x="31.2" y="41.5" width="14.1" height="15.0" fill="#aaaaaa"/><rect x="44.8" y="41.5" width="14.1" height="15.0" fill="#888888"/><rect x="58.4" y="41.5" width="14.1" height="15.0" fill="#666666"/><rect x="72.0" y="41.5" width="14.1" height="15.0" fill="#444444"/><rect x="85.6" y="41.5" width="14.1" height="15.0" fill="#333333"/><rect x="99.2" y="41.5" width="14.1" height="15.0" fill="#333333"/><rect x="112.8" y="41.5" width="14.1" height="15.0" fill="#222222"/><rect x="126.4" y="41.5" width="14.1" height="15.0" fill="#222222"/><rect x="4.0" y="56.0" width="14.1" height="15.0" fill="#aaaaaa"/><rect x="17.6" y="56.0" width="14.1" height="15.0" fill="#aaaaaa"/><rect x="31.2" y="56.0" width="14.1" height="15.0" fill="#bbbbbb"/><rect x="44.8" y="56.0" width="14.1" height="15.0" fill="#aaaaaa"/><rect x="58.4" y="56.0" width="14.1" height="15.0" fill="#666666"/><rect x="72.0" y="56.0" width="14.1" height="15.0" fill="#333333"/><rect x="85.6" y="56.0" width="14.1" height="15.0" fill="#333333"/><rect x="99.2" y="56.0" width="14.1" height="15.0" fill="#333333"/><rect x="112.8" y="56.0" width="14.1" height="15.0" fill="#222222"/><rect x="126.4" y="56.0" width="14.1" height="15.0" fill="#222222"/><rect x="4.0" y="70.5" width="14.1" height="15.0" fill="#888888"/><rect x="17.6" y="70.5" width="14.1" height="15.0" fill="#888888"/><rect x="31.2" y="70.5" width="14.1" height="15.0" fill="#888888"/><rect x="44.8" y="70.5" width="14.1" height="15.0" fill="#888888"/><rect x="58.4" y="70.5" width="14.1" height="15.0" fill="#333333"/><rect x="72.0" y="70.5" width="14.1" height="15.0" fill="#333333"/><rect x="85.6" y="70.5" width="14.1" height="15.0" fill="#333333"/><rect x="99.2" y="70.5" width="14.1" height="15.0" fill="#444444"/><rect x="112.8" y="70.5" width="14.1" height="15.0" fill="#333333"/><rect x="126.4" y="70.5" width="14.1" height="15.0" fill="#333333"/><rect x="4.0" y="85.0" width="14.1" height="15.0" fill="#333333"/><rect x="17.6" y="85.0" width="14.1" height="15.0" fill="#333333"/><rect x="31.2" y="85.0" width="14.1" height="15.0" fill="#333333"/><rect x="44.8" y="85.0" width="14.1" height="15.0" fill="#333333"/><rect x="58.4" y="85.0" width="14.1" height="15.0" fill="#333333"/><rect x="72.0" y="85.0" width="14.1" height="15.0" fill="#222222"/><rect x="85.6" y="85.0" width="14.1" height="15.0" fill="#333333"/><rect x="99.2" y="85.0" width="14.1" height="15.0" fill="#333333"/><rect x="112.8" y="85.0" width="14.1" height="15.0" fill="#333333"/><rect x="126.4" y="85.0" width="14.1" height="15.0" fill="#333333"/><rect x="4.0" y="99.5" width="14.1" height="15.0" fill="#333333"/><rect x="17.6" y="99.5" width="14.1" height="15.0" fill="#333333"/><rect x="31.2" y="99.5" width="14.1" height="15.0" fill="#333333"/><rect x="44.8" y="99.5" width="14.1" height="15.0" fill="#333333"/><rect x="58.4" y="99.5" width="14.1" height="15.0" fill="#333333"/><rect x="72.0" y="99.5" width="14.1" height="15.0" fill="#333333"/><rect x="85.6" y="99.5" width="14.1" height="15.0" fill="#333333"/><rect x="99.2" y="99.5" width="14.1" height="15.0" fill="#333333"/><rect x="112.8" y="99.5" width="14.1" height="15.0" fill="#333333"/><rect x="126.4" y="99.5" width="14.1" height="15.0" fill="#333333"/></g></g><use href="#ir"/><use href="#isl"/></g><rect x="317.60" y="486.30" width="148.40" height="115.20" fill="#e3e3e3" stroke="#242424" stroke-width="1.9"/><g transform="translate(317.60,486.30) scale(0.9960,1.0017)"><g clip-path="url(#ck)"><g filter="url(#bl)"><rect x="4.0" y="-2.0" width="14.1" height="15.0" fill="#555555"/><rect x="17.6" y="-2.0" width="14.1" height="15.0" fill="#555555"/><rect x="31.2" y="-2.0" width="14.1" height="15.0" fill="#666666"/><rect x="44.8" y="-2.0" width="14.1" height="15.0" fill="#666666"/><rect x="58.4" y="-2.0" width="14.1" height="15.0" fill="#666666"/><rect x="72.0" y="-2.0" width="14.1" height="15.0" fill="#777777"/><rect x="85.6" y="-2.0" width="14.1" height="15.0" fill="#777777"/><rect x="99.2" y="-2.0" width="14.1" height="15.0" fill="#888888"/><rect x="112.8" y="-2.0" width="14.1" height="15.0" fill="#999999"/><rect x="126.4" y="-2.0" width="14.1" height="15.0" fill="#999999"/><rect x="4.0" y="12.5" width="14.1" height="15.0" fill="#555555"/><rect x="17.6" y="12.5" width="14.1" height="15.0" fill="#555555"/><rect x="31.2" y="12.5" width="14.1" height="15.0" fill="#666666"/><rect x="44.8" y="12.5" width="14.1" height="15.0" fill="#666666"/><rect x="58.4" y="12.5" width="14.1" height="15.0" fill="#666666"/><rect x="72.0" y="12.5" width="14.1" height="15.0" fill="#777777"/><rect x="85.6" y="12.5" width="14.1" height="15.0" fill="#777777"/><rect x="99.2" y="12.5" width="14.1" height="15.0" fill="#888888"/><rect x="112.8" y="12.5" width="14.1" height="15.0" fill="#999999"/><rect x="126.4" y="12.5" width="14.1" height="15.0" fill="#999999"/><rect x="4.0" y="27.0" width="14.1" height="15.0" fill="#555555"/><rect x="17.6" y="27.0" width="14.1" height="15.0" fill="#555555"/><rect x="31.2" y="27.0" width="14.1" height="15.0" fill="#666666"/><rect x="44.8" y="27.0" width="14.1" height="15.0" fill="#666666"/><rect x="58.4" y="27.0" width="14.1" height="15.0" fill="#666666"/><rect x="72.0" y="27.0" width="14.1" height="15.0" fill="#777777"/><rect x="85.6" y="27.0" width="14.1" height="15.0" fill="#888888"/><rect x="99.2" y="27.0" width="14.1" height="15.0" fill="#999999"/><rect x="112.8" y="27.0" width="14.1" height="15.0" fill="#999999"/><rect x="126.4" y="27.0" width="14.1" height="15.0" fill="#999999"/><rect x="4.0" y="41.5" width="14.1" height="15.0" fill="#555555"/><rect x="17.6" y="41.5" width="14.1" height="15.0" fill="#555555"/><rect x="31.2" y="41.5" width="14.1" height="15.0" fill="#666666"/><rect x="44.8" y="41.5" width="14.1" height="15.0" fill="#666666"/><rect x="58.4" y="41.5" width="14.1" height="15.0" fill="#888888"/><rect x="72.0" y="41.5" width="14.1" height="15.0" fill="#bbbbbb"/><rect x="85.6" y="41.5" width="14.1" height="15.0" fill="#cccccc"/><rect x="99.2" y="41.5" width="14.1" height="15.0" fill="#cccccc"/><rect x="112.8" y="41.5" width="14.1" height="15.0" fill="#999999"/><rect x="126.4" y="41.5" width="14.1" height="15.0" fill="#999999"/><rect x="4.0" y="56.0" width="14.1" height="15.0" fill="#555555"/><rect x="17.6" y="56.0" width="14.1" height="15.0" fill="#555555"/><rect x="31.2" y="56.0" width="14.1" height="15.0" fill="#555555"/><rect x="44.8" y="56.0" width="14.1" height="15.0" fill="#666666"/><rect x="58.4" y="56.0" width="14.1" height="15.0" fill="#777777"/><rect x="72.0" y="56.0" width="14.1" height="15.0" fill="#444444"/><rect x="85.6" y="56.0" width="14.1" height="15.0" fill="#999999"/><rect x="99.2" y="56.0" width="14.1" height="15.0" fill="#aaaaaa"/><rect x="112.8" y="56.0" width="14.1" height="15.0" fill="#bbbbbb"/><rect x="126.4" y="56.0" width="14.1" height="15.0" fill="#bbbbbb"/><rect x="4.0" y="70.5" width="14.1" height="15.0" fill="#555555"/><rect x="17.6" y="70.5" width="14.1" height="15.0" fill="#555555"/><rect x="31.2" y="70.5" width="14.1" height="15.0" fill="#555555"/><rect x="44.8" y="70.5" width="14.1" height="15.0" fill="#666666"/><rect x="58.4" y="70.5" width="14.1" height="15.0" fill="#666666"/><rect x="72.0" y="70.5" width="14.1" height="15.0" fill="#aaaaaa"/><rect x="85.6" y="70.5" width="14.1" height="15.0" fill="#666666"/><rect x="99.2" y="70.5" width="14.1" height="15.0" fill="#888888"/><rect x="112.8" y="70.5" width="14.1" height="15.0" fill="#555555"/><rect x="126.4" y="70.5" width="14.1" height="15.0" fill="#555555"/><rect x="4.0" y="85.0" width="14.1" height="15.0" fill="#666666"/><rect x="17.6" y="85.0" width="14.1" height="15.0" fill="#666666"/><rect x="31.2" y="85.0" width="14.1" height="15.0" fill="#666666"/><rect x="44.8" y="85.0" width="14.1" height="15.0" fill="#666666"/><rect x="58.4" y="85.0" width="14.1" height="15.0" fill="#777777"/><rect x="72.0" y="85.0" width="14.1" height="15.0" fill="#555555"/><rect x="85.6" y="85.0" width="14.1" height="15.0" fill="#888888"/><rect x="99.2" y="85.0" width="14.1" height="15.0" fill="#777777"/><rect x="112.8" y="85.0" width="14.1" height="15.0" fill="#cccccc"/><rect x="126.4" y="85.0" width="14.1" height="15.0" fill="#666666"/><rect x="4.0" y="99.5" width="14.1" height="15.0" fill="#777777"/><rect x="17.6" y="99.5" width="14.1" height="15.0" fill="#777777"/><rect x="31.2" y="99.5" width="14.1" height="15.0" fill="#777777"/><rect x="44.8" y="99.5" width="14.1" height="15.0" fill="#777777"/><rect x="58.4" y="99.5" width="14.1" height="15.0" fill="#777777"/><rect x="72.0" y="99.5" width="14.1" height="15.0" fill="#777777"/><rect x="85.6" y="99.5" width="14.1" height="15.0" fill="#777777"/><rect x="99.2" y="99.5" width="14.1" height="15.0" fill="#777777"/><rect x="112.8" y="99.5" width="14.1" height="15.0" fill="#555555"/><rect x="126.4" y="99.5" width="14.1" height="15.0" fill="#666666"/></g></g><use href="#ir"/><use href="#isl"/></g><rect x="844.00" y="484.80" width="146.70" height="114.10" fill="#e3e3e3" stroke="#242424" stroke-width="1.9"/><g transform="translate(844.00,484.80) scale(0.9846,0.9922)"><g clip-path="url(#ck)"><g filter="url(#bl)"><rect x="4.0" y="-2.0" width="14.1" height="15.0" fill="#444444"/><rect x="17.6" y="-2.0" width="14.1" height="15.0" fill="#444444"/><rect x="31.2" y="-2.0" width="14.1" height="15.0" fill="#555555"/><rect x="44.8" y="-2.0" width="14.1" height="15.0" fill="#555555"/><rect x="58.4" y="-2.0" width="14.1" height="15.0" fill="#555555"/><rect x="72.0" y="-2.0" width="14.1" height="15.0" fill="#555555"/><rect x="85.6" y="-2.0" width="14.1" height="15.0" fill="#666666"/><rect x="99.2" y="-2.0" width="14.1" height="15.0" fill="#555555"/><rect x="112.8" y="-2.0" width="14.1" height="15.0" fill="#444444"/><rect x="126.4" y="-2.0" width="14.1" height="15.0" fill="#444444"/><rect x="4.0" y="12.5" width="14.1" height="15.0" fill="#555555"/><rect x="17.6" y="12.5" width="14.1" height="15.0" fill="#555555"/><rect x="31.2" y="12.5" width="14.1" height="15.0" fill="#555555"/><rect x="44.8" y="12.5" width="14.1" height="15.0" fill="#555555"/><rect x="58.4" y="12.5" width="14.1" height="15.0" fill="#555555"/><rect x="72.0" y="12.5" width="14.1" height="15.0" fill="#555555"/><rect x="85.6" y="12.5" width="14.1" height="15.0" fill="#666666"/><rect x="99.2" y="12.5" width="14.1" height="15.0" fill="#555555"/><rect x="112.8" y="12.5" width="14.1" height="15.0" fill="#444444"/><rect x="126.4" y="12.5" width="14.1" height="15.0" fill="#444444"/><rect x="4.0" y="27.0" width="14.1" height="15.0" fill="#888888"/><rect x="17.6" y="27.0" width="14.1" height="15.0" fill="#888888"/><rect x="31.2" y="27.0" width="14.1" height="15.0" fill="#444444"/><rect x="44.8" y="27.0" width="14.1" height="15.0" fill="#444444"/><rect x="58.4" y="27.0" width="14.1" height="15.0" fill="#555555"/><rect x="72.0" y="27.0" width="14.1" height="15.0" fill="#666666"/><rect x="85.6" y="27.0" width="14.1" height="15.0" fill="#777777"/><rect x="99.2" y="27.0" width="14.1" height="15.0" fill="#666666"/><rect x="112.8" y="27.0" width="14.1" height="15.0" fill="#555555"/><rect x="126.4" y="27.0" width="14.1" height="15.0" fill="#555555"/><rect x="4.0" y="41.5" width="14.1" height="15.0" fill="#777777"/><rect x="17.6" y="41.5" width="14.1" height="15.0" fill="#777777"/><rect x="31.2" y="41.5" width="14.1" height="15.0" fill="#555555"/><rect x="44.8" y="41.5" width="14.1" height="15.0" fill="#555555"/><rect x="58.4" y="41.5" width="14.1" height="15.0" fill="#777777"/><rect x="72.0" y="41.5" width="14.1" height="15.0" fill="#aaaaaa"/><rect x="85.6" y="41.5" width="14.1" height="15.0" fill="#bbbbbb"/><rect x="99.2" y="41.5" width="14.1" height="15.0" fill="#888888"/><rect x="112.8" y="41.5" width="14.1" height="15.0" fill="#666666"/><rect x="126.4" y="41.5" width="14.1" height="15.0" fill="#666666"/><rect x="4.0" y="56.0" width="14.1" height="15.0" fill="#777777"/><rect x="17.6" y="56.0" width="14.1" height="15.0" fill="#777777"/><rect x="31.2" y="56.0" width="14.1" height="15.0" fill="#777777"/><rect x="44.8" y="56.0" width="14.1" height="15.0" fill="#999999"/><rect x="58.4" y="56.0" width="14.1" height="15.0" fill="#cccccc"/><rect x="72.0" y="56.0" width="14.1" height="15.0" fill="#dddddd"/><rect x="85.6" y="56.0" width="14.1" height="15.0" fill="#cccccc"/><rect x="99.2" y="56.0" width="14.1" height="15.0" fill="#666666"/><rect x="112.8" y="56.0" width="14.1" height="15.0" fill="#555555"/><rect x="126.4" y="56.0" width="14.1" height="15.0" fill="#555555"/><rect x="4.0" y="70.5" width="14.1" height="15.0" fill="#999999"/><rect x="17.6" y="70.5" width="14.1" height="15.0" fill="#999999"/><rect x="31.2" y="70.5" width="14.1" height="15.0" fill="#aaaaaa"/><rect x="44.8" y="70.5" width="14.1" height="15.0" fill="#cccccc"/><rect x="58.4" y="70.5" width="14.1" height="15.0" fill="#eeeeee"/><rect x="72.0" y="70.5" width="14.1" height="15.0" fill="#dddddd"/><rect x="85.6" y="70.5" width="14.1" height="15.0" fill="#aaaaaa"/><rect x="99.2" y="70.5" width="14.1" height="15.0" fill="#555555"/><rect x="112.8" y="70.5" width="14.1" height="15.0" fill="#666666"/><rect x="126.4" y="70.5" width="14.1" height="15.0" fill="#555555"/><rect x="4.0" y="85.0" width="14.1" height="15.0" fill="#cccccc"/><rect x="17.6" y="85.0" width="14.1" height="15.0" fill="#cccccc"/><rect x="31.2" y="85.0" width="14.1" height="15.0" fill="#dddddd"/><rect x="44.8" y="85.0" width="14.1" height="15.0" fill="#eeeeee"/><rect x="58.4" y="85.0" width="14.1" height="15.0" fill="#eeeeee"/><rect x="72.0" y="85.0" width="14.1" height="15.0" fill="#888888"/><rect x="85.6" y="85.0" width="14.1" height="15.0" fill="#666666"/><rect x="99.2" y="85.0" width="14.1" height="15.0" fill="#777777"/><rect x="112.8" y="85.0" width="14.1" height="15.0" fill="#888888"/><rect x="126.4" y="85.0" width="14.1" height="15.0" fill="#333333"/><rect x="4.0" y="99.5" width="14.1" height="15.0" fill="#eeeeee"/><rect x="17.6" y="99.5" width="14.1" height="15.0" fill="#eeeeee"/><rect x="31.2" y="99.5" width="14.1" height="15.0" fill="#eeeeee"/><rect x="44.8" y="99.5" width="14.1" height="15.0" fill="#eeeeee"/><rect x="58.4" y="99.5" width="14.1" height="15.0" fill="#eeeeee"/><rect x="72.0" y="99.5" width="14.1" height="15.0" fill="#aaaaaa"/><rect x="85.6" y="99.5" width="14.1" height="15.0" fill="#888888"/><rect x="99.2" y="99.5" width="14.1" height="15.0" fill="#aaaaaa"/><rect x="112.8" y="99.5" width="14.1" height="15.0" fill="#666666"/><rect x="126.4" y="99.5" width="14.1" height="15.0" fill="#444444"/></g></g><use href="#ir"/><use href="#isl"/></g><rect x="485.90" y="67.40" width="19.50" height="319.50" fill="url(#cg)" stroke="#333" stroke-width="0.8"/><line x1="502.6" y1="68.0" x2="505.4" y2="68.0" stroke="#222" stroke-width="0.9"/><line x1="502.6" y1="120.0" x2="505.4" y2="120.0" stroke="#222" stroke-width="0.9"/><line x1="502.6" y1="171.5" x2="505.4" y2="171.5" stroke="#222" stroke-width="0.9"/><line x1="502.6" y1="223.0" x2="505.4" y2="223.0" stroke="#222" stroke-width="0.9"/><line x1="502.6" y1="274.5" x2="505.4" y2="274.5" stroke="#222" stroke-width="0.9"/><line x1="502.6" y1="326.0" x2="505.4" y2="326.0" stroke="#222" stroke-width="0.9"/><line x1="502.6" y1="377.5" x2="505.4" y2="377.5" stroke="#222" stroke-width="0.9"/>
</svg>
<div class="pl" style="left:12.5px;top:20.5px">(a)</div>
<div class="pl" style="left:563.3px;top:19.8px">(b)</div>
<div class="un" style="left:456.6px;top:9.8px;transform:scaleX(0.905)">mm month/</div>
<div class="un" style="left:456.6px;top:35.4px;transform:scaleX(0.865)">mm annual</div>
<div class="lbl" style="left:-10.6px;top:50.9px;width:188.2px">January</div><div class="lbl" style="left:518.7px;top:52.6px;width:186.6px">January</div><div class="lbl" style="left:143.3px;top:50.9px;width:188.6px">February</div><div class="lbl" style="left:671.0px;top:52.6px;width:187.0px">February</div><div class="lbl" style="left:297.6px;top:50.9px;width:188.4px">March</div><div class="lbl" style="left:824.0px;top:52.6px;width:186.7px">March</div><div class="lbl" style="left:-10.6px;top:191.9px;width:188.2px">April</div><div class="lbl" style="left:518.7px;top:192.0px;width:186.6px">April</div><div class="lbl" style="left:143.3px;top:191.9px;width:188.6px">May</div><div class="lbl" style="left:671.0px;top:192.0px;width:187.0px">May</div><div class="lbl" style="left:297.6px;top:191.9px;width:188.4px">June</div><div class="lbl" style="left:824.0px;top:192.0px;width:186.7px">June</div><div class="lbl" style="left:-10.6px;top:331.9px;width:188.2px">July</div><div class="lbl" style="left:518.7px;top:331.2px;width:186.6px">July</div><div class="lbl" style="left:143.3px;top:331.9px;width:188.6px">August</div><div class="lbl" style="left:671.0px;top:331.2px;width:187.0px">August</div><div class="lbl" style="left:297.6px;top:331.9px;width:188.4px">September</div><div class="lbl" style="left:824.0px;top:331.2px;width:186.7px">September</div><div class="lbl" style="left:-10.6px;top:472.2px;width:188.2px">October</div><div class="lbl" style="left:518.7px;top:470.7px;width:186.6px">October</div><div class="lbl" style="left:143.3px;top:472.2px;width:188.6px">November</div><div class="lbl" style="left:671.0px;top:470.7px;width:187.0px">November</div><div class="lbl" style="left:297.6px;top:472.2px;width:188.4px">December</div><div class="lbl" style="left:824.0px;top:470.7px;width:186.7px">December</div>
<div class="tk" style="left:509.5px;top:61.8px">0.3</div><div class="tk" style="left:509.5px;top:113.8px">0.2</div><div class="tk" style="left:509.5px;top:165.3px">0.2</div><div class="tk" style="left:509.5px;top:216.8px">0.1</div><div class="tk" style="left:509.5px;top:268.3px">0.1</div><div class="tk" style="left:509.5px;top:319.8px">0.0</div><div class="tk" style="left:509.5px;top:371.3px">0</div>
</body></html>
